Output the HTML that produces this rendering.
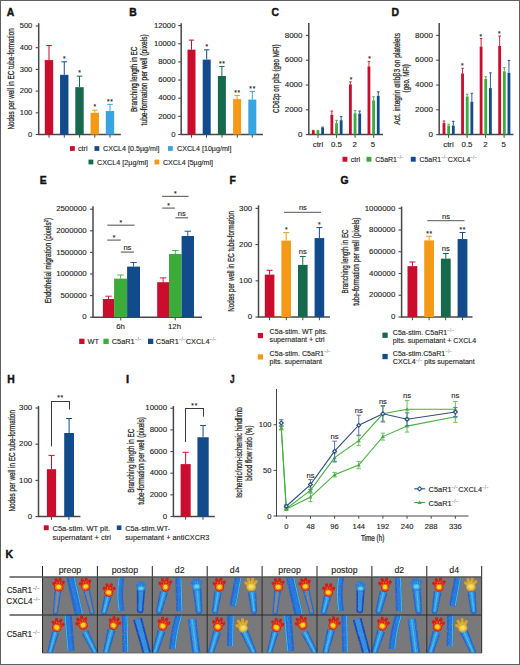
<!DOCTYPE html>
<html><head><meta charset="utf-8"><style>
html,body{margin:0;padding:0;background:#fff;}
svg{display:block;font-family:"Liberation Sans", sans-serif;}
text{stroke:#222;stroke-width:0.12px;}
.yl{stroke-width:0.24px;}
.sp{fill:#555;stroke:none;}
.pl{stroke:#111;stroke-width:0.45px;}
</style></head><body>
<svg width="520" height="665" viewBox="0 0 520 665">
<rect x="0" y="0" width="520" height="665" fill="#fff"/>
<text class="pl" x="0" y="0" font-size="11.8" font-weight="bold" fill="#111" transform="translate(6.70 15.80) scale(0.88 1)">A</text>
<line x1="38.70" y1="23.30" x2="38.70" y2="135.00" stroke="#484848" stroke-width="1.5"/>
<line x1="35.70" y1="134.50" x2="38.70" y2="134.50" stroke="#484848" stroke-width="1.1"/>
<text x="32.30" y="136.70" font-size="7.55" text-anchor="end" fill="#222">0</text>
<line x1="35.70" y1="112.80" x2="38.70" y2="112.80" stroke="#484848" stroke-width="1.1"/>
<text x="32.30" y="115.00" font-size="7.55" text-anchor="end" fill="#222">100</text>
<line x1="35.70" y1="91.10" x2="38.70" y2="91.10" stroke="#484848" stroke-width="1.1"/>
<text x="32.30" y="93.30" font-size="7.55" text-anchor="end" fill="#222">200</text>
<line x1="35.70" y1="69.40" x2="38.70" y2="69.40" stroke="#484848" stroke-width="1.1"/>
<text x="32.30" y="71.60" font-size="7.55" text-anchor="end" fill="#222">300</text>
<line x1="35.70" y1="47.70" x2="38.70" y2="47.70" stroke="#484848" stroke-width="1.1"/>
<text x="32.30" y="49.90" font-size="7.55" text-anchor="end" fill="#222">400</text>
<line x1="35.70" y1="26.00" x2="38.70" y2="26.00" stroke="#484848" stroke-width="1.1"/>
<text x="32.30" y="28.20" font-size="7.55" text-anchor="end" fill="#222">500</text>
<line x1="38.20" y1="134.50" x2="120.80" y2="134.50" stroke="#484848" stroke-width="1.5"/>
<line x1="49.00" y1="134.50" x2="49.00" y2="137.70" stroke="#484848" stroke-width="1.0"/>
<line x1="64.30" y1="134.50" x2="64.30" y2="137.70" stroke="#484848" stroke-width="1.0"/>
<line x1="79.60" y1="134.50" x2="79.60" y2="137.70" stroke="#484848" stroke-width="1.0"/>
<line x1="94.80" y1="134.50" x2="94.80" y2="137.70" stroke="#484848" stroke-width="1.0"/>
<line x1="110.00" y1="134.50" x2="110.00" y2="137.70" stroke="#484848" stroke-width="1.0"/>
<rect x="44.80" y="60.07" width="8.40" height="74.43" fill="#ca0c2d"/>
<line x1="49.00" y1="60.07" x2="49.00" y2="45.53" stroke="#ca0c2d" stroke-width="1.0"/>
<line x1="46.20" y1="45.53" x2="51.80" y2="45.53" stroke="#ca0c2d" stroke-width="1.0"/>
<rect x="60.05" y="74.83" width="8.40" height="59.67" fill="#124b8b"/>
<line x1="64.25" y1="74.83" x2="64.25" y2="61.81" stroke="#124b8b" stroke-width="1.0"/>
<line x1="61.45" y1="61.81" x2="67.05" y2="61.81" stroke="#124b8b" stroke-width="1.0"/>
<text x="64.25" y="61.10" font-size="6.6" text-anchor="middle" fill="#222">*</text>
<rect x="75.30" y="87.19" width="8.40" height="47.31" fill="#17694e"/>
<line x1="79.50" y1="87.19" x2="79.50" y2="76.13" stroke="#17694e" stroke-width="1.0"/>
<line x1="76.70" y1="76.13" x2="82.30" y2="76.13" stroke="#17694e" stroke-width="1.0"/>
<text x="79.50" y="75.42" font-size="6.6" text-anchor="middle" fill="#222">*</text>
<rect x="90.55" y="112.80" width="8.40" height="21.70" fill="#f59a17"/>
<line x1="94.75" y1="112.80" x2="94.75" y2="110.20" stroke="#f59a17" stroke-width="1.0"/>
<line x1="91.95" y1="110.20" x2="97.55" y2="110.20" stroke="#f59a17" stroke-width="1.0"/>
<text x="94.75" y="109.49" font-size="6.6" text-anchor="middle" fill="#222">*</text>
<rect x="105.80" y="111.06" width="8.40" height="23.44" fill="#37a5e0"/>
<line x1="110.00" y1="111.06" x2="110.00" y2="104.34" stroke="#37a5e0" stroke-width="1.0"/>
<line x1="107.20" y1="104.34" x2="112.80" y2="104.34" stroke="#37a5e0" stroke-width="1.0"/>
<text x="108.35" y="103.63" font-size="6.6" text-anchor="middle" fill="#222">*</text>
<text x="111.65" y="103.63" font-size="6.6" text-anchor="middle" fill="#222">*</text>
<text class="yl" x="0" y="0" font-size="8.6" text-anchor="middle" fill="#222" transform="translate(14.00 78.90) rotate(-90) scale(0.7355 1)">Nodes per well in EC tube-formation</text>
<text class="pl" x="0" y="0" font-size="11.8" font-weight="bold" fill="#111" transform="translate(129.30 15.90) scale(0.88 1)">B</text>
<line x1="181.20" y1="23.30" x2="181.20" y2="135.00" stroke="#484848" stroke-width="1.5"/>
<line x1="178.20" y1="134.50" x2="181.20" y2="134.50" stroke="#484848" stroke-width="1.1"/>
<text x="175.50" y="136.70" font-size="7.75" text-anchor="end" fill="#222">0</text>
<line x1="178.20" y1="116.35" x2="181.20" y2="116.35" stroke="#484848" stroke-width="1.1"/>
<text x="175.50" y="118.55" font-size="7.75" text-anchor="end" fill="#222">2000</text>
<line x1="178.20" y1="98.20" x2="181.20" y2="98.20" stroke="#484848" stroke-width="1.1"/>
<text x="175.50" y="100.40" font-size="7.75" text-anchor="end" fill="#222">4000</text>
<line x1="178.20" y1="80.05" x2="181.20" y2="80.05" stroke="#484848" stroke-width="1.1"/>
<text x="175.50" y="82.25" font-size="7.75" text-anchor="end" fill="#222">6000</text>
<line x1="178.20" y1="61.90" x2="181.20" y2="61.90" stroke="#484848" stroke-width="1.1"/>
<text x="175.50" y="64.10" font-size="7.75" text-anchor="end" fill="#222">8000</text>
<line x1="178.20" y1="43.75" x2="181.20" y2="43.75" stroke="#484848" stroke-width="1.1"/>
<text x="175.50" y="45.95" font-size="7.75" text-anchor="end" fill="#222">10000</text>
<line x1="178.20" y1="25.60" x2="181.20" y2="25.60" stroke="#484848" stroke-width="1.1"/>
<text x="175.50" y="27.80" font-size="7.75" text-anchor="end" fill="#222">12000</text>
<line x1="180.70" y1="134.50" x2="263.00" y2="134.50" stroke="#484848" stroke-width="1.5"/>
<line x1="191.50" y1="134.50" x2="191.50" y2="137.70" stroke="#484848" stroke-width="1.0"/>
<line x1="206.50" y1="134.50" x2="206.50" y2="137.70" stroke="#484848" stroke-width="1.0"/>
<line x1="222.00" y1="134.50" x2="222.00" y2="137.70" stroke="#484848" stroke-width="1.0"/>
<line x1="237.30" y1="134.50" x2="237.30" y2="137.70" stroke="#484848" stroke-width="1.0"/>
<line x1="252.30" y1="134.50" x2="252.30" y2="137.70" stroke="#484848" stroke-width="1.0"/>
<rect x="187.50" y="49.65" width="8.00" height="84.85" fill="#ca0c2d"/>
<line x1="191.50" y1="49.65" x2="191.50" y2="40.12" stroke="#ca0c2d" stroke-width="1.0"/>
<line x1="188.80" y1="40.12" x2="194.20" y2="40.12" stroke="#ca0c2d" stroke-width="1.0"/>
<rect x="202.70" y="59.63" width="8.00" height="74.87" fill="#124b8b"/>
<line x1="206.70" y1="59.63" x2="206.70" y2="49.83" stroke="#124b8b" stroke-width="1.0"/>
<line x1="204.00" y1="49.83" x2="209.40" y2="49.83" stroke="#124b8b" stroke-width="1.0"/>
<text x="206.70" y="49.23" font-size="6.6" text-anchor="middle" fill="#222">*</text>
<rect x="217.90" y="75.97" width="8.00" height="58.53" fill="#17694e"/>
<line x1="221.90" y1="75.97" x2="221.90" y2="66.44" stroke="#17694e" stroke-width="1.0"/>
<line x1="219.20" y1="66.44" x2="224.60" y2="66.44" stroke="#17694e" stroke-width="1.0"/>
<text x="220.25" y="65.83" font-size="6.6" text-anchor="middle" fill="#222">*</text>
<text x="223.55" y="65.83" font-size="6.6" text-anchor="middle" fill="#222">*</text>
<rect x="233.10" y="99.11" width="8.00" height="35.39" fill="#f59a17"/>
<line x1="237.10" y1="99.11" x2="237.10" y2="95.48" stroke="#f59a17" stroke-width="1.0"/>
<line x1="234.40" y1="95.48" x2="239.80" y2="95.48" stroke="#f59a17" stroke-width="1.0"/>
<text x="235.45" y="94.87" font-size="6.6" text-anchor="middle" fill="#222">*</text>
<text x="238.75" y="94.87" font-size="6.6" text-anchor="middle" fill="#222">*</text>
<rect x="248.30" y="99.56" width="8.00" height="34.94" fill="#37a5e0"/>
<line x1="252.30" y1="99.56" x2="252.30" y2="91.39" stroke="#37a5e0" stroke-width="1.0"/>
<line x1="249.60" y1="91.39" x2="255.00" y2="91.39" stroke="#37a5e0" stroke-width="1.0"/>
<text x="250.65" y="90.79" font-size="6.6" text-anchor="middle" fill="#222">*</text>
<text x="253.95" y="90.79" font-size="6.6" text-anchor="middle" fill="#222">*</text>
<text class="yl" x="0" y="0" font-size="8.6" text-anchor="middle" fill="#222" transform="translate(136.80 79.25) rotate(-90) scale(0.7446 1)">Branching length in EC</text>
<text class="yl" x="0" y="0" font-size="8.6" text-anchor="middle" fill="#222" transform="translate(147.20 79.85) rotate(-90) scale(0.7765 1)">tube-formation per well (pixels)</text>
<rect x="70.00" y="146.10" width="4.80" height="4.80" fill="#ca0c2d"/>
<text x="78.00" y="151.00" font-size="7.1" text-anchor="start" fill="#222">ctrl</text>
<rect x="94.50" y="146.10" width="4.80" height="4.80" fill="#124b8b"/>
<text x="103.00" y="151.00" font-size="7.1" text-anchor="start" fill="#222" textLength="56.50" lengthAdjust="spacingAndGlyphs">CXCL4 [0.5µg/ml]</text>
<rect x="168.00" y="146.10" width="4.80" height="4.80" fill="#37a5e0"/>
<text x="177.00" y="151.00" font-size="7.1" text-anchor="start" fill="#222" textLength="54.40" lengthAdjust="spacingAndGlyphs">CXCL4 [10µg/ml]</text>
<rect x="88.50" y="159.60" width="4.80" height="4.80" fill="#17694e"/>
<text x="97.00" y="164.50" font-size="7.1" text-anchor="start" fill="#222" textLength="51.00" lengthAdjust="spacingAndGlyphs">CXCL4 [2µg/ml]</text>
<rect x="154.50" y="159.60" width="4.80" height="4.80" fill="#f59a17"/>
<text x="163.00" y="164.50" font-size="7.1" text-anchor="start" fill="#222" textLength="50.00" lengthAdjust="spacingAndGlyphs">CXCL4 [5µg/ml]</text>
<text class="pl" x="0" y="0" font-size="11.8" font-weight="bold" fill="#111" transform="translate(271.40 16.00) scale(0.88 1)">C</text>
<line x1="308.80" y1="23.00" x2="308.80" y2="135.10" stroke="#484848" stroke-width="1.5"/>
<line x1="305.80" y1="134.60" x2="308.80" y2="134.60" stroke="#484848" stroke-width="1.1"/>
<text x="302.50" y="136.80" font-size="8.0" text-anchor="end" fill="#222">0</text>
<line x1="305.80" y1="109.80" x2="308.80" y2="109.80" stroke="#484848" stroke-width="1.1"/>
<text x="302.50" y="112.00" font-size="8.0" text-anchor="end" fill="#222">2000</text>
<line x1="305.80" y1="85.00" x2="308.80" y2="85.00" stroke="#484848" stroke-width="1.1"/>
<text x="302.50" y="87.20" font-size="8.0" text-anchor="end" fill="#222">4000</text>
<line x1="305.80" y1="60.20" x2="308.80" y2="60.20" stroke="#484848" stroke-width="1.1"/>
<text x="302.50" y="62.40" font-size="8.0" text-anchor="end" fill="#222">6000</text>
<line x1="305.80" y1="35.40" x2="308.80" y2="35.40" stroke="#484848" stroke-width="1.1"/>
<text x="302.50" y="37.60" font-size="8.0" text-anchor="end" fill="#222">8000</text>
<line x1="308.30" y1="134.60" x2="383.00" y2="134.60" stroke="#484848" stroke-width="1.5"/>
<line x1="318.00" y1="134.60" x2="318.00" y2="137.80" stroke="#484848" stroke-width="1.0"/>
<line x1="336.60" y1="134.60" x2="336.60" y2="137.80" stroke="#484848" stroke-width="1.0"/>
<line x1="355.10" y1="134.60" x2="355.10" y2="137.80" stroke="#484848" stroke-width="1.0"/>
<line x1="373.70" y1="134.60" x2="373.70" y2="137.80" stroke="#484848" stroke-width="1.0"/>
<rect x="311.90" y="130.88" width="2.80" height="3.62" fill="#ca0c2d"/>
<line x1="313.30" y1="130.88" x2="313.30" y2="130.38" stroke="#ca0c2d" stroke-width="0.9"/>
<line x1="312.00" y1="130.38" x2="314.60" y2="130.38" stroke="#ca0c2d" stroke-width="0.9"/>
<rect x="316.55" y="130.88" width="2.80" height="3.62" fill="#3bab3a"/>
<line x1="317.95" y1="130.88" x2="317.95" y2="130.38" stroke="#3bab3a" stroke-width="0.9"/>
<line x1="316.65" y1="130.38" x2="319.25" y2="130.38" stroke="#3bab3a" stroke-width="0.9"/>
<rect x="321.20" y="127.66" width="2.80" height="6.84" fill="#124b8b"/>
<line x1="322.60" y1="127.66" x2="322.60" y2="127.16" stroke="#124b8b" stroke-width="0.9"/>
<line x1="321.30" y1="127.16" x2="323.90" y2="127.16" stroke="#124b8b" stroke-width="0.9"/>
<rect x="330.45" y="114.76" width="2.80" height="19.74" fill="#ca0c2d"/>
<line x1="331.85" y1="114.76" x2="331.85" y2="111.04" stroke="#ca0c2d" stroke-width="0.9"/>
<line x1="330.55" y1="111.04" x2="333.15" y2="111.04" stroke="#ca0c2d" stroke-width="0.9"/>
<rect x="335.10" y="123.19" width="2.80" height="11.31" fill="#3bab3a"/>
<line x1="336.50" y1="123.19" x2="336.50" y2="120.34" stroke="#3bab3a" stroke-width="0.9"/>
<line x1="335.20" y1="120.34" x2="337.80" y2="120.34" stroke="#3bab3a" stroke-width="0.9"/>
<rect x="339.75" y="120.22" width="2.80" height="14.28" fill="#124b8b"/>
<line x1="341.15" y1="120.22" x2="341.15" y2="116.62" stroke="#124b8b" stroke-width="0.9"/>
<line x1="339.85" y1="116.62" x2="342.45" y2="116.62" stroke="#124b8b" stroke-width="0.9"/>
<rect x="349.00" y="84.38" width="2.80" height="50.12" fill="#ca0c2d"/>
<line x1="350.40" y1="84.38" x2="350.40" y2="81.90" stroke="#ca0c2d" stroke-width="0.9"/>
<line x1="349.10" y1="81.90" x2="351.70" y2="81.90" stroke="#ca0c2d" stroke-width="0.9"/>
<rect x="353.65" y="113.27" width="2.80" height="21.23" fill="#3bab3a"/>
<line x1="355.05" y1="113.27" x2="355.05" y2="110.42" stroke="#3bab3a" stroke-width="0.9"/>
<line x1="353.75" y1="110.42" x2="356.35" y2="110.42" stroke="#3bab3a" stroke-width="0.9"/>
<rect x="358.30" y="113.52" width="2.80" height="20.98" fill="#124b8b"/>
<line x1="359.70" y1="113.52" x2="359.70" y2="111.04" stroke="#124b8b" stroke-width="0.9"/>
<line x1="358.40" y1="111.04" x2="361.00" y2="111.04" stroke="#124b8b" stroke-width="0.9"/>
<rect x="367.55" y="66.40" width="2.80" height="68.10" fill="#ca0c2d"/>
<line x1="368.95" y1="66.40" x2="368.95" y2="61.44" stroke="#ca0c2d" stroke-width="0.9"/>
<line x1="367.65" y1="61.44" x2="370.25" y2="61.44" stroke="#ca0c2d" stroke-width="0.9"/>
<rect x="372.20" y="100.38" width="2.80" height="34.12" fill="#3bab3a"/>
<line x1="373.60" y1="100.38" x2="373.60" y2="96.78" stroke="#3bab3a" stroke-width="0.9"/>
<line x1="372.30" y1="96.78" x2="374.90" y2="96.78" stroke="#3bab3a" stroke-width="0.9"/>
<rect x="376.85" y="95.79" width="2.80" height="38.71" fill="#124b8b"/>
<line x1="378.25" y1="95.79" x2="378.25" y2="91.82" stroke="#124b8b" stroke-width="0.9"/>
<line x1="376.95" y1="91.82" x2="379.55" y2="91.82" stroke="#124b8b" stroke-width="0.9"/>
<text x="351.00" y="82.00" font-size="6.6" text-anchor="middle" fill="#222">*</text>
<text x="369.50" y="61.34" font-size="6.6" text-anchor="middle" fill="#222">*</text>
<text x="318.00" y="147.00" font-size="7.9" text-anchor="middle" fill="#222">ctrl</text>
<text x="336.40" y="147.00" font-size="7.9" text-anchor="middle" fill="#222">0.5</text>
<text x="354.60" y="147.00" font-size="7.9" text-anchor="middle" fill="#222">2</text>
<text x="373.00" y="147.00" font-size="7.9" text-anchor="middle" fill="#222">5</text>
<text class="yl" x="0" y="0" font-size="8.6" text-anchor="middle" fill="#222" transform="translate(279.20 78.70) rotate(-90) scale(0.7307 1)">CD62p on plts (geo MFI)</text>
<text class="pl" x="0" y="0" font-size="11.8" font-weight="bold" fill="#111" transform="translate(391.60 15.90) scale(0.88 1)">D</text>
<line x1="439.20" y1="23.00" x2="439.20" y2="135.10" stroke="#484848" stroke-width="1.5"/>
<line x1="436.20" y1="134.60" x2="439.20" y2="134.60" stroke="#484848" stroke-width="1.1"/>
<text x="432.90" y="136.80" font-size="8.0" text-anchor="end" fill="#222">0</text>
<line x1="436.20" y1="109.80" x2="439.20" y2="109.80" stroke="#484848" stroke-width="1.1"/>
<text x="432.90" y="112.00" font-size="8.0" text-anchor="end" fill="#222">2000</text>
<line x1="436.20" y1="85.00" x2="439.20" y2="85.00" stroke="#484848" stroke-width="1.1"/>
<text x="432.90" y="87.20" font-size="8.0" text-anchor="end" fill="#222">4000</text>
<line x1="436.20" y1="60.20" x2="439.20" y2="60.20" stroke="#484848" stroke-width="1.1"/>
<text x="432.90" y="62.40" font-size="8.0" text-anchor="end" fill="#222">6000</text>
<line x1="436.20" y1="35.40" x2="439.20" y2="35.40" stroke="#484848" stroke-width="1.1"/>
<text x="432.90" y="37.60" font-size="8.0" text-anchor="end" fill="#222">8000</text>
<line x1="438.70" y1="134.60" x2="513.50" y2="134.60" stroke="#484848" stroke-width="1.5"/>
<line x1="448.60" y1="134.60" x2="448.60" y2="137.80" stroke="#484848" stroke-width="1.0"/>
<line x1="467.10" y1="134.60" x2="467.10" y2="137.80" stroke="#484848" stroke-width="1.0"/>
<line x1="485.60" y1="134.60" x2="485.60" y2="137.80" stroke="#484848" stroke-width="1.0"/>
<line x1="504.10" y1="134.60" x2="504.10" y2="137.80" stroke="#484848" stroke-width="1.0"/>
<rect x="442.60" y="123.07" width="2.80" height="11.43" fill="#ca0c2d"/>
<line x1="444.00" y1="123.07" x2="444.00" y2="120.96" stroke="#ca0c2d" stroke-width="0.9"/>
<line x1="442.70" y1="120.96" x2="445.30" y2="120.96" stroke="#ca0c2d" stroke-width="0.9"/>
<rect x="447.25" y="125.55" width="2.80" height="8.95" fill="#3bab3a"/>
<line x1="448.65" y1="125.55" x2="448.65" y2="124.18" stroke="#3bab3a" stroke-width="0.9"/>
<line x1="447.35" y1="124.18" x2="449.95" y2="124.18" stroke="#3bab3a" stroke-width="0.9"/>
<rect x="451.90" y="125.55" width="2.80" height="8.95" fill="#124b8b"/>
<line x1="453.30" y1="125.55" x2="453.30" y2="121.33" stroke="#124b8b" stroke-width="0.9"/>
<line x1="452.00" y1="121.33" x2="454.60" y2="121.33" stroke="#124b8b" stroke-width="0.9"/>
<rect x="461.15" y="73.47" width="2.80" height="61.03" fill="#ca0c2d"/>
<line x1="462.55" y1="73.47" x2="462.55" y2="68.26" stroke="#ca0c2d" stroke-width="0.9"/>
<line x1="461.25" y1="68.26" x2="463.85" y2="68.26" stroke="#ca0c2d" stroke-width="0.9"/>
<rect x="465.80" y="96.53" width="2.80" height="37.97" fill="#3bab3a"/>
<line x1="467.20" y1="96.53" x2="467.20" y2="94.18" stroke="#3bab3a" stroke-width="0.9"/>
<line x1="465.90" y1="94.18" x2="468.50" y2="94.18" stroke="#3bab3a" stroke-width="0.9"/>
<rect x="470.45" y="101.74" width="2.80" height="32.76" fill="#124b8b"/>
<line x1="471.85" y1="101.74" x2="471.85" y2="93.31" stroke="#124b8b" stroke-width="0.9"/>
<line x1="470.55" y1="93.31" x2="473.15" y2="93.31" stroke="#124b8b" stroke-width="0.9"/>
<rect x="479.70" y="46.56" width="2.80" height="87.94" fill="#ca0c2d"/>
<line x1="481.10" y1="46.56" x2="481.10" y2="38.50" stroke="#ca0c2d" stroke-width="0.9"/>
<line x1="479.80" y1="38.50" x2="482.40" y2="38.50" stroke="#ca0c2d" stroke-width="0.9"/>
<rect x="484.35" y="78.92" width="2.80" height="55.58" fill="#3bab3a"/>
<line x1="485.75" y1="78.92" x2="485.75" y2="76.69" stroke="#3bab3a" stroke-width="0.9"/>
<line x1="484.45" y1="76.69" x2="487.05" y2="76.69" stroke="#3bab3a" stroke-width="0.9"/>
<rect x="489.00" y="88.10" width="2.80" height="46.40" fill="#124b8b"/>
<line x1="490.40" y1="88.10" x2="490.40" y2="72.85" stroke="#124b8b" stroke-width="0.9"/>
<line x1="489.10" y1="72.85" x2="491.70" y2="72.85" stroke="#124b8b" stroke-width="0.9"/>
<rect x="498.25" y="45.94" width="2.80" height="88.56" fill="#ca0c2d"/>
<line x1="499.65" y1="45.94" x2="499.65" y2="36.02" stroke="#ca0c2d" stroke-width="0.9"/>
<line x1="498.35" y1="36.02" x2="500.95" y2="36.02" stroke="#ca0c2d" stroke-width="0.9"/>
<rect x="502.90" y="71.36" width="2.80" height="63.14" fill="#3bab3a"/>
<line x1="504.30" y1="71.36" x2="504.30" y2="67.64" stroke="#3bab3a" stroke-width="0.9"/>
<line x1="503.00" y1="67.64" x2="505.60" y2="67.64" stroke="#3bab3a" stroke-width="0.9"/>
<rect x="507.55" y="72.85" width="2.80" height="61.65" fill="#124b8b"/>
<line x1="508.95" y1="72.85" x2="508.95" y2="60.45" stroke="#124b8b" stroke-width="0.9"/>
<line x1="507.65" y1="60.45" x2="510.25" y2="60.45" stroke="#124b8b" stroke-width="0.9"/>
<text x="462.40" y="67.76" font-size="6.6" text-anchor="middle" fill="#222">*</text>
<text x="480.90" y="38.62" font-size="6.6" text-anchor="middle" fill="#222">*</text>
<text x="499.40" y="35.76" font-size="6.6" text-anchor="middle" fill="#222">*</text>
<text x="448.50" y="147.00" font-size="7.9" text-anchor="middle" fill="#222">ctrl</text>
<text x="467.00" y="147.00" font-size="7.9" text-anchor="middle" fill="#222">0.5</text>
<text x="485.40" y="147.00" font-size="7.9" text-anchor="middle" fill="#222">2</text>
<text x="503.60" y="147.00" font-size="7.9" text-anchor="middle" fill="#222">5</text>
<text class="yl" x="0" y="0" font-size="8.6" text-anchor="middle" fill="#222" transform="translate(399.70 78.85) rotate(-90) scale(0.7742 1)">Act. integrin αIIbβ3 on platelets</text>
<text class="yl" x="0" y="0" font-size="8.6" text-anchor="middle" fill="#222" transform="translate(409.40 78.35) rotate(-90) scale(0.7085 1)">(geo. MFI)</text>
<rect x="342.50" y="156.80" width="4.90" height="4.90" fill="#ca0c2d"/>
<text x="350.80" y="161.50" font-size="7.0" text-anchor="start" fill="#222">ctrl</text>
<rect x="366.50" y="156.80" width="4.90" height="4.90" fill="#3bab3a"/>
<text x="375.20" y="161.50" font-size="7.0" text-anchor="start" fill="#222">C5aR1<tspan class="sp" font-size="4.6" dy="-2.8">−/−</tspan></text>
<rect x="410.80" y="156.80" width="4.90" height="4.90" fill="#124b8b"/>
<text x="419.40" y="161.50" font-size="7.0" text-anchor="start" fill="#222">C5aR1<tspan class="sp" font-size="4.6" dy="-2.8">−/−</tspan><tspan dy="2.8">CXCL4</tspan><tspan class="sp" font-size="4.6" dy="-2.8">−/−</tspan></text>
<text class="pl" x="0" y="0" font-size="11.8" font-weight="bold" fill="#111" transform="translate(39.70 183.70) scale(0.88 1)">E</text>
<line x1="93.00" y1="206.30" x2="93.00" y2="317.70" stroke="#484848" stroke-width="1.5"/>
<line x1="90.00" y1="317.20" x2="93.00" y2="317.20" stroke="#484848" stroke-width="1.1"/>
<text x="86.70" y="319.40" font-size="7.85" text-anchor="end" fill="#222">0</text>
<line x1="90.00" y1="295.60" x2="93.00" y2="295.60" stroke="#484848" stroke-width="1.1"/>
<text x="86.70" y="297.80" font-size="7.85" text-anchor="end" fill="#222">500000</text>
<line x1="90.00" y1="274.00" x2="93.00" y2="274.00" stroke="#484848" stroke-width="1.1"/>
<text x="86.70" y="276.20" font-size="7.85" text-anchor="end" fill="#222">1000000</text>
<line x1="90.00" y1="252.40" x2="93.00" y2="252.40" stroke="#484848" stroke-width="1.1"/>
<text x="86.70" y="254.60" font-size="7.85" text-anchor="end" fill="#222">1500000</text>
<line x1="90.00" y1="230.80" x2="93.00" y2="230.80" stroke="#484848" stroke-width="1.1"/>
<text x="86.70" y="233.00" font-size="7.85" text-anchor="end" fill="#222">2000000</text>
<line x1="90.00" y1="209.20" x2="93.00" y2="209.20" stroke="#484848" stroke-width="1.1"/>
<text x="86.70" y="211.40" font-size="7.85" text-anchor="end" fill="#222">2500000</text>
<line x1="92.30" y1="317.20" x2="202.00" y2="317.20" stroke="#484848" stroke-width="1.5"/>
<line x1="120.80" y1="317.20" x2="120.80" y2="320.40" stroke="#484848" stroke-width="1.0"/>
<line x1="175.20" y1="317.20" x2="175.20" y2="320.40" stroke="#484848" stroke-width="1.0"/>
<rect x="102.90" y="299.01" width="11.20" height="18.19" fill="#ca0c2d"/>
<line x1="108.50" y1="299.01" x2="108.50" y2="296.20" stroke="#ca0c2d" stroke-width="0.9"/>
<line x1="105.25" y1="296.20" x2="111.75" y2="296.20" stroke="#ca0c2d" stroke-width="0.9"/>
<rect x="114.10" y="278.62" width="13.00" height="38.58" fill="#3bab3a"/>
<line x1="120.60" y1="278.62" x2="120.60" y2="274.99" stroke="#3bab3a" stroke-width="0.9"/>
<line x1="117.35" y1="274.99" x2="123.85" y2="274.99" stroke="#3bab3a" stroke-width="0.9"/>
<rect x="127.10" y="266.61" width="12.90" height="50.59" fill="#124b8b"/>
<line x1="133.55" y1="266.61" x2="133.55" y2="262.51" stroke="#124b8b" stroke-width="0.9"/>
<line x1="130.30" y1="262.51" x2="136.80" y2="262.51" stroke="#124b8b" stroke-width="0.9"/>
<rect x="157.20" y="282.21" width="11.80" height="34.99" fill="#ca0c2d"/>
<line x1="163.10" y1="282.21" x2="163.10" y2="277.89" stroke="#ca0c2d" stroke-width="0.9"/>
<line x1="159.85" y1="277.89" x2="166.35" y2="277.89" stroke="#ca0c2d" stroke-width="0.9"/>
<rect x="169.00" y="254.00" width="12.60" height="63.20" fill="#3bab3a"/>
<line x1="175.30" y1="254.00" x2="175.30" y2="250.50" stroke="#3bab3a" stroke-width="0.9"/>
<line x1="172.05" y1="250.50" x2="178.55" y2="250.50" stroke="#3bab3a" stroke-width="0.9"/>
<rect x="181.60" y="235.98" width="12.40" height="81.22" fill="#124b8b"/>
<line x1="187.80" y1="235.98" x2="187.80" y2="231.23" stroke="#124b8b" stroke-width="0.9"/>
<line x1="184.55" y1="231.23" x2="191.05" y2="231.23" stroke="#124b8b" stroke-width="0.9"/>
<line x1="107.30" y1="225.20" x2="134.50" y2="225.20" stroke="#6a6a6a" stroke-width="1.2"/>
<text x="120.90" y="224.90" font-size="6.6" text-anchor="middle" fill="#222">*</text>
<line x1="107.30" y1="240.10" x2="120.80" y2="240.10" stroke="#6a6a6a" stroke-width="1.2"/>
<text x="114.05" y="239.80" font-size="6.6" text-anchor="middle" fill="#222">*</text>
<line x1="120.80" y1="252.10" x2="134.00" y2="252.10" stroke="#6a6a6a" stroke-width="1.2"/>
<text x="127.40" y="250.30" font-size="7.6" text-anchor="middle" fill="#222">ns</text>
<line x1="162.20" y1="196.40" x2="188.60" y2="196.40" stroke="#6a6a6a" stroke-width="1.2"/>
<text x="175.40" y="196.10" font-size="6.6" text-anchor="middle" fill="#222">*</text>
<line x1="162.20" y1="208.10" x2="174.90" y2="208.10" stroke="#6a6a6a" stroke-width="1.2"/>
<text x="168.55" y="207.80" font-size="6.6" text-anchor="middle" fill="#222">*</text>
<line x1="175.40" y1="217.80" x2="188.10" y2="217.80" stroke="#6a6a6a" stroke-width="1.2"/>
<text x="181.75" y="216.00" font-size="7.6" text-anchor="middle" fill="#222">ns</text>
<text x="120.50" y="329.00" font-size="7.8" text-anchor="middle" fill="#222">6h</text>
<text x="174.50" y="329.00" font-size="7.8" text-anchor="middle" fill="#222">12h</text>
<text class="yl" x="0" y="0" font-size="8.6" text-anchor="middle" fill="#222" transform="translate(50.60 260.60) rotate(-90) scale(0.7537 1)">Endothelial migration (pixels<tspan font-size="5.42" dy="-3.10">2</tspan><tspan dy="3.10">)</tspan></text>
<rect x="79.20" y="338.70" width="5.30" height="5.30" fill="#ca0c2d"/>
<text x="87.50" y="344.00" font-size="7.4" text-anchor="start" fill="#222">WT</text>
<rect x="103.40" y="338.70" width="5.30" height="5.30" fill="#3bab3a"/>
<text x="111.70" y="344.00" font-size="7.4" text-anchor="start" fill="#222">C5aR1<tspan class="sp" font-size="4.8" dy="-3">−/−</tspan></text>
<rect x="148.00" y="338.70" width="5.30" height="5.30" fill="#124b8b"/>
<text x="155.80" y="344.00" font-size="7.4" text-anchor="start" fill="#222">C5aR1<tspan class="sp" font-size="4.8" dy="-3">−/−</tspan><tspan dy="3">CXCL4</tspan><tspan class="sp" font-size="4.8" dy="-3">−/−</tspan></text>
<text class="pl" x="0" y="0" font-size="11.8" font-weight="bold" fill="#111" transform="translate(229.60 183.50) scale(0.88 1)">F</text>
<line x1="258.50" y1="205.30" x2="258.50" y2="317.50" stroke="#484848" stroke-width="1.5"/>
<line x1="255.50" y1="317.00" x2="258.50" y2="317.00" stroke="#484848" stroke-width="1.1"/>
<text x="252.20" y="319.20" font-size="7.85" text-anchor="end" fill="#222">0</text>
<line x1="255.50" y1="280.80" x2="258.50" y2="280.80" stroke="#484848" stroke-width="1.1"/>
<text x="252.20" y="283.00" font-size="7.85" text-anchor="end" fill="#222">100</text>
<line x1="255.50" y1="244.60" x2="258.50" y2="244.60" stroke="#484848" stroke-width="1.1"/>
<text x="252.20" y="246.80" font-size="7.85" text-anchor="end" fill="#222">200</text>
<line x1="255.50" y1="208.40" x2="258.50" y2="208.40" stroke="#484848" stroke-width="1.1"/>
<text x="252.20" y="210.60" font-size="7.85" text-anchor="end" fill="#222">300</text>
<line x1="258.00" y1="317.00" x2="330.00" y2="317.00" stroke="#484848" stroke-width="1.5"/>
<line x1="269.60" y1="317.00" x2="269.60" y2="320.20" stroke="#484848" stroke-width="1.0"/>
<line x1="286.30" y1="317.00" x2="286.30" y2="320.20" stroke="#484848" stroke-width="1.0"/>
<line x1="302.80" y1="317.00" x2="302.80" y2="320.20" stroke="#484848" stroke-width="1.0"/>
<line x1="319.40" y1="317.00" x2="319.40" y2="320.20" stroke="#484848" stroke-width="1.0"/>
<rect x="264.80" y="274.65" width="9.60" height="42.35" fill="#ca0c2d"/>
<line x1="269.60" y1="274.65" x2="269.60" y2="270.30" stroke="#ca0c2d" stroke-width="1.0"/>
<line x1="266.60" y1="270.30" x2="272.60" y2="270.30" stroke="#ca0c2d" stroke-width="1.0"/>
<rect x="281.40" y="240.62" width="9.60" height="76.38" fill="#f59a17"/>
<line x1="286.20" y1="240.62" x2="286.20" y2="232.65" stroke="#f59a17" stroke-width="1.0"/>
<line x1="283.20" y1="232.65" x2="289.20" y2="232.65" stroke="#f59a17" stroke-width="1.0"/>
<text x="286.20" y="232.15" font-size="6.6" text-anchor="middle" fill="#222">*</text>
<rect x="298.00" y="264.87" width="9.60" height="52.13" fill="#17694e"/>
<line x1="302.80" y1="264.87" x2="302.80" y2="256.55" stroke="#17694e" stroke-width="1.0"/>
<line x1="299.80" y1="256.55" x2="305.80" y2="256.55" stroke="#17694e" stroke-width="1.0"/>
<text x="302.80" y="254.05" font-size="7.6" text-anchor="middle" fill="#222">ns</text>
<rect x="314.60" y="238.08" width="9.60" height="78.92" fill="#124b8b"/>
<line x1="319.40" y1="238.08" x2="319.40" y2="227.59" stroke="#124b8b" stroke-width="1.0"/>
<line x1="316.40" y1="227.59" x2="322.40" y2="227.59" stroke="#124b8b" stroke-width="1.0"/>
<text x="319.40" y="227.08" font-size="6.6" text-anchor="middle" fill="#222">*</text>
<line x1="284.00" y1="212.30" x2="321.00" y2="212.30" stroke="#555" stroke-width="1.0"/>
<text x="302.90" y="210.20" font-size="7.6" text-anchor="middle" fill="#222">ns</text>
<text class="yl" x="0" y="0" font-size="8.6" text-anchor="middle" fill="#222" transform="translate(233.50 261.40) rotate(-90) scale(0.7326 1)">Nodes per well in EC tube-formation</text>
<rect x="257.80" y="333.00" width="5.20" height="5.20" fill="#ca0c2d"/>
<text x="269.60" y="333.60" font-size="7.1" text-anchor="start" fill="#222">C5a-stim. WT plts.</text>
<text x="269.60" y="341.70" font-size="7.1" text-anchor="start" fill="#222">supernatant + ctrl</text>
<rect x="257.80" y="354.30" width="5.20" height="5.20" fill="#f59a17"/>
<text x="269.60" y="356.00" font-size="7.1" text-anchor="start" fill="#222">C5a-stim. C5aR1<tspan class="sp" font-size="4.6" dy="-2.8">−/−</tspan></text>
<text x="269.60" y="364.40" font-size="7.1" text-anchor="start" fill="#222">plts. supernatant</text>
<text class="pl" x="0" y="0" font-size="11.8" font-weight="bold" fill="#111" transform="translate(340.60 183.80) scale(0.88 1)">G</text>
<line x1="401.60" y1="206.50" x2="401.60" y2="317.50" stroke="#484848" stroke-width="1.5"/>
<line x1="398.60" y1="317.00" x2="401.60" y2="317.00" stroke="#484848" stroke-width="1.1"/>
<text x="395.30" y="319.20" font-size="7.85" text-anchor="end" fill="#222">0</text>
<line x1="398.60" y1="295.26" x2="401.60" y2="295.26" stroke="#484848" stroke-width="1.1"/>
<text x="395.30" y="297.46" font-size="7.85" text-anchor="end" fill="#222">200000</text>
<line x1="398.60" y1="273.52" x2="401.60" y2="273.52" stroke="#484848" stroke-width="1.1"/>
<text x="395.30" y="275.72" font-size="7.85" text-anchor="end" fill="#222">400000</text>
<line x1="398.60" y1="251.78" x2="401.60" y2="251.78" stroke="#484848" stroke-width="1.1"/>
<text x="395.30" y="253.98" font-size="7.85" text-anchor="end" fill="#222">600000</text>
<line x1="398.60" y1="230.04" x2="401.60" y2="230.04" stroke="#484848" stroke-width="1.1"/>
<text x="395.30" y="232.24" font-size="7.85" text-anchor="end" fill="#222">800000</text>
<line x1="398.60" y1="208.30" x2="401.60" y2="208.30" stroke="#484848" stroke-width="1.1"/>
<text x="395.30" y="210.50" font-size="7.85" text-anchor="end" fill="#222">1000000</text>
<line x1="401.10" y1="317.00" x2="472.50" y2="317.00" stroke="#484848" stroke-width="1.5"/>
<line x1="412.40" y1="317.00" x2="412.40" y2="320.20" stroke="#484848" stroke-width="1.0"/>
<line x1="429.10" y1="317.00" x2="429.10" y2="320.20" stroke="#484848" stroke-width="1.0"/>
<line x1="445.70" y1="317.00" x2="445.70" y2="320.20" stroke="#484848" stroke-width="1.0"/>
<line x1="462.50" y1="317.00" x2="462.50" y2="320.20" stroke="#484848" stroke-width="1.0"/>
<rect x="407.50" y="266.13" width="9.80" height="50.87" fill="#ca0c2d"/>
<line x1="412.40" y1="266.13" x2="412.40" y2="262.00" stroke="#ca0c2d" stroke-width="1.0"/>
<line x1="409.40" y1="262.00" x2="415.40" y2="262.00" stroke="#ca0c2d" stroke-width="1.0"/>
<rect x="424.20" y="240.37" width="9.80" height="76.63" fill="#f59a17"/>
<line x1="429.10" y1="240.37" x2="429.10" y2="236.24" stroke="#f59a17" stroke-width="1.0"/>
<line x1="426.10" y1="236.24" x2="432.10" y2="236.24" stroke="#f59a17" stroke-width="1.0"/>
<text x="427.45" y="235.73" font-size="6.6" text-anchor="middle" fill="#222">*</text>
<text x="430.75" y="235.73" font-size="6.6" text-anchor="middle" fill="#222">*</text>
<rect x="440.90" y="258.63" width="9.80" height="58.37" fill="#17694e"/>
<line x1="445.80" y1="258.63" x2="445.80" y2="253.52" stroke="#17694e" stroke-width="1.0"/>
<line x1="442.80" y1="253.52" x2="448.80" y2="253.52" stroke="#17694e" stroke-width="1.0"/>
<text x="445.80" y="251.02" font-size="7.6" text-anchor="middle" fill="#222">ns</text>
<rect x="457.60" y="239.06" width="9.80" height="77.94" fill="#124b8b"/>
<line x1="462.50" y1="239.06" x2="462.50" y2="232.54" stroke="#124b8b" stroke-width="1.0"/>
<line x1="459.50" y1="232.54" x2="465.50" y2="232.54" stroke="#124b8b" stroke-width="1.0"/>
<text x="460.85" y="232.04" font-size="6.6" text-anchor="middle" fill="#222">*</text>
<text x="464.15" y="232.04" font-size="6.6" text-anchor="middle" fill="#222">*</text>
<line x1="427.30" y1="220.70" x2="464.50" y2="220.70" stroke="#555" stroke-width="1.0"/>
<text x="446.00" y="218.80" font-size="7.6" text-anchor="middle" fill="#222">ns</text>
<text class="yl" x="0" y="0" font-size="8.6" text-anchor="middle" fill="#222" transform="translate(348.40 261.40) rotate(-90) scale(0.7275 1)">Branching length in EC</text>
<text class="yl" x="0" y="0" font-size="8.6" text-anchor="middle" fill="#222" transform="translate(358.60 261.60) rotate(-90) scale(0.7518 1)">tube-formation per well (pixels)</text>
<rect x="382.40" y="332.60" width="5.30" height="5.30" fill="#17694e"/>
<text x="392.80" y="334.80" font-size="7.1" text-anchor="start" fill="#222">C5a-stim. C5aR1<tspan class="sp" font-size="4.6" dy="-2.8">−/−</tspan></text>
<text x="392.80" y="343.20" font-size="7.1" text-anchor="start" fill="#222">plts. supernatant + CXCL4</text>
<rect x="382.40" y="353.90" width="5.30" height="5.30" fill="#124b8b"/>
<text x="392.80" y="355.80" font-size="7.1" text-anchor="start" fill="#222">C5a-stim.C5aR1<tspan class="sp" font-size="4.6" dy="-2.8">−/−</tspan></text>
<text x="392.80" y="364.30" font-size="7.1" text-anchor="start" fill="#222">CXCL4<tspan class="sp" font-size="4.6" dy="-2.8">−/−</tspan><tspan dy="2.8"> plts supernatant</tspan></text>
<text class="pl" x="0" y="0" font-size="11.8" font-weight="bold" fill="#111" transform="translate(7.20 382.90) scale(0.88 1)">H</text>
<line x1="38.50" y1="406.00" x2="38.50" y2="517.10" stroke="#484848" stroke-width="1.5"/>
<line x1="35.50" y1="516.60" x2="38.50" y2="516.60" stroke="#484848" stroke-width="1.1"/>
<text x="32.20" y="518.80" font-size="7.85" text-anchor="end" fill="#222">0</text>
<line x1="35.50" y1="480.40" x2="38.50" y2="480.40" stroke="#484848" stroke-width="1.1"/>
<text x="32.20" y="482.60" font-size="7.85" text-anchor="end" fill="#222">100</text>
<line x1="35.50" y1="444.20" x2="38.50" y2="444.20" stroke="#484848" stroke-width="1.1"/>
<text x="32.20" y="446.40" font-size="7.85" text-anchor="end" fill="#222">200</text>
<line x1="35.50" y1="408.00" x2="38.50" y2="408.00" stroke="#484848" stroke-width="1.1"/>
<text x="32.20" y="410.20" font-size="7.85" text-anchor="end" fill="#222">300</text>
<line x1="38.00" y1="516.60" x2="80.40" y2="516.60" stroke="#484848" stroke-width="1.5"/>
<line x1="51.50" y1="516.60" x2="51.50" y2="519.80" stroke="#484848" stroke-width="1.0"/>
<line x1="68.90" y1="516.60" x2="68.90" y2="519.80" stroke="#484848" stroke-width="1.0"/>
<rect x="46.90" y="469.18" width="9.20" height="47.42" fill="#ca0c2d"/>
<line x1="51.50" y1="469.18" x2="51.50" y2="455.42" stroke="#ca0c2d" stroke-width="1.0"/>
<line x1="48.50" y1="455.42" x2="54.50" y2="455.42" stroke="#ca0c2d" stroke-width="1.0"/>
<rect x="64.20" y="432.98" width="9.80" height="83.62" fill="#124b8b"/>
<line x1="69.10" y1="432.98" x2="69.10" y2="418.50" stroke="#124b8b" stroke-width="1.0"/>
<line x1="66.10" y1="418.50" x2="72.10" y2="418.50" stroke="#124b8b" stroke-width="1.0"/>
<line x1="51.50" y1="401.00" x2="51.50" y2="446.40" stroke="#3a3a3a" stroke-width="1.0"/>
<line x1="51.00" y1="401.50" x2="69.50" y2="401.50" stroke="#3a3a3a" stroke-width="1.0"/>
<line x1="69.50" y1="401.00" x2="69.50" y2="409.50" stroke="#3a3a3a" stroke-width="1.0"/>
<text x="58.55" y="400.00" font-size="6.6" text-anchor="middle" fill="#222">*</text>
<text x="61.85" y="400.00" font-size="6.6" text-anchor="middle" fill="#222">*</text>
<text class="yl" x="0" y="0" font-size="8.6" text-anchor="middle" fill="#222" transform="translate(14.90 460.80) rotate(-90) scale(0.7355 1)">Nodes per well in EC tube-formation</text>
<text class="pl" x="0" y="0" font-size="11.8" font-weight="bold" fill="#111" transform="translate(125.90 382.90) scale(0.95 1)">I</text>
<line x1="173.40" y1="406.00" x2="173.40" y2="517.00" stroke="#484848" stroke-width="1.5"/>
<line x1="170.40" y1="516.50" x2="173.40" y2="516.50" stroke="#484848" stroke-width="1.1"/>
<text x="167.10" y="518.70" font-size="7.85" text-anchor="end" fill="#222">0</text>
<line x1="170.40" y1="494.85" x2="173.40" y2="494.85" stroke="#484848" stroke-width="1.1"/>
<text x="167.10" y="497.05" font-size="7.85" text-anchor="end" fill="#222">2000</text>
<line x1="170.40" y1="473.20" x2="173.40" y2="473.20" stroke="#484848" stroke-width="1.1"/>
<text x="167.10" y="475.40" font-size="7.85" text-anchor="end" fill="#222">4000</text>
<line x1="170.40" y1="451.55" x2="173.40" y2="451.55" stroke="#484848" stroke-width="1.1"/>
<text x="167.10" y="453.75" font-size="7.85" text-anchor="end" fill="#222">6000</text>
<line x1="170.40" y1="429.90" x2="173.40" y2="429.90" stroke="#484848" stroke-width="1.1"/>
<text x="167.10" y="432.10" font-size="7.85" text-anchor="end" fill="#222">8000</text>
<line x1="170.40" y1="408.25" x2="173.40" y2="408.25" stroke="#484848" stroke-width="1.1"/>
<text x="167.10" y="410.45" font-size="7.85" text-anchor="end" fill="#222">10000</text>
<line x1="172.90" y1="516.50" x2="214.80" y2="516.50" stroke="#484848" stroke-width="1.5"/>
<line x1="185.60" y1="516.50" x2="185.60" y2="519.70" stroke="#484848" stroke-width="1.0"/>
<line x1="203.00" y1="516.50" x2="203.00" y2="519.70" stroke="#484848" stroke-width="1.0"/>
<rect x="180.60" y="464.11" width="10.10" height="52.39" fill="#ca0c2d"/>
<line x1="185.65" y1="464.11" x2="185.65" y2="452.31" stroke="#ca0c2d" stroke-width="1.0"/>
<line x1="182.65" y1="452.31" x2="188.65" y2="452.31" stroke="#ca0c2d" stroke-width="1.0"/>
<rect x="197.40" y="437.26" width="11.30" height="79.24" fill="#124b8b"/>
<line x1="203.05" y1="437.26" x2="203.05" y2="425.57" stroke="#124b8b" stroke-width="1.0"/>
<line x1="200.05" y1="425.57" x2="206.05" y2="425.57" stroke="#124b8b" stroke-width="1.0"/>
<line x1="185.50" y1="408.00" x2="185.50" y2="442.00" stroke="#3a3a3a" stroke-width="1.0"/>
<line x1="185.00" y1="408.50" x2="203.50" y2="408.50" stroke="#3a3a3a" stroke-width="1.0"/>
<line x1="203.50" y1="408.00" x2="203.50" y2="416.70" stroke="#3a3a3a" stroke-width="1.0"/>
<text x="192.65" y="407.90" font-size="6.6" text-anchor="middle" fill="#222">*</text>
<text x="195.95" y="407.90" font-size="6.6" text-anchor="middle" fill="#222">*</text>
<text class="yl" x="0" y="0" font-size="8.6" text-anchor="middle" fill="#222" transform="translate(133.60 460.75) rotate(-90) scale(0.7287 1)">Branching length in EC</text>
<text class="yl" x="0" y="0" font-size="8.6" text-anchor="middle" fill="#222" transform="translate(143.90 460.95) rotate(-90) scale(0.7493 1)">tube-formation per well (pixels)</text>
<rect x="43.80" y="525.30" width="4.90" height="4.90" fill="#ca0c2d"/>
<text x="52.50" y="530.50" font-size="7.4" text-anchor="start" fill="#222" textLength="57.60" lengthAdjust="spacingAndGlyphs">C5a-stim. WT plt.</text>
<text x="52.50" y="539.60" font-size="7.4" text-anchor="start" fill="#222" textLength="58.50" lengthAdjust="spacingAndGlyphs">supernatant + ctrl</text>
<rect x="116.80" y="525.40" width="4.60" height="4.60" fill="#124b8b"/>
<text x="125.20" y="530.50" font-size="7.4" text-anchor="start" fill="#222" textLength="45.00" lengthAdjust="spacingAndGlyphs">C5a-stim.WT-</text>
<text x="125.20" y="539.60" font-size="7.4" text-anchor="start" fill="#222" textLength="84.20" lengthAdjust="spacingAndGlyphs">supernatant + antiCXCR3</text>
<text class="pl" x="0" y="0" font-size="11.8" font-weight="bold" fill="#111" transform="translate(229.90 382.60) scale(0.7 1)">J</text>
<line x1="276.50" y1="389.00" x2="276.50" y2="516.50" stroke="#484848" stroke-width="1.0"/>
<line x1="273.50" y1="516.00" x2="276.50" y2="516.00" stroke="#484848" stroke-width="1.0"/>
<text x="271.50" y="518.70" font-size="7.6" text-anchor="end" fill="#222">0</text>
<line x1="273.50" y1="470.38" x2="276.50" y2="470.38" stroke="#484848" stroke-width="1.0"/>
<text x="271.50" y="473.07" font-size="7.6" text-anchor="end" fill="#222">50</text>
<line x1="273.50" y1="424.75" x2="276.50" y2="424.75" stroke="#484848" stroke-width="1.0"/>
<text x="271.50" y="427.45" font-size="7.6" text-anchor="end" fill="#222">100</text>
<line x1="276.00" y1="516.00" x2="468.50" y2="516.00" stroke="#484848" stroke-width="1.0"/>
<line x1="286.30" y1="516.00" x2="286.30" y2="518.70" stroke="#484848" stroke-width="1.0"/>
<text x="286.30" y="528.70" font-size="7.6" text-anchor="middle" fill="#222">0</text>
<line x1="310.45" y1="516.00" x2="310.45" y2="518.70" stroke="#484848" stroke-width="1.0"/>
<text x="310.45" y="528.70" font-size="7.6" text-anchor="middle" fill="#222">48</text>
<line x1="334.60" y1="516.00" x2="334.60" y2="518.70" stroke="#484848" stroke-width="1.0"/>
<text x="334.60" y="528.70" font-size="7.6" text-anchor="middle" fill="#222">96</text>
<line x1="358.75" y1="516.00" x2="358.75" y2="518.70" stroke="#484848" stroke-width="1.0"/>
<text x="358.75" y="528.70" font-size="7.6" text-anchor="middle" fill="#222">144</text>
<line x1="382.90" y1="516.00" x2="382.90" y2="518.70" stroke="#484848" stroke-width="1.0"/>
<text x="382.90" y="528.70" font-size="7.6" text-anchor="middle" fill="#222">192</text>
<line x1="407.05" y1="516.00" x2="407.05" y2="518.70" stroke="#484848" stroke-width="1.0"/>
<text x="407.05" y="528.70" font-size="7.6" text-anchor="middle" fill="#222">240</text>
<line x1="431.20" y1="516.00" x2="431.20" y2="518.70" stroke="#484848" stroke-width="1.0"/>
<text x="431.20" y="528.70" font-size="7.6" text-anchor="middle" fill="#222">288</text>
<line x1="455.35" y1="516.00" x2="455.35" y2="518.70" stroke="#484848" stroke-width="1.0"/>
<text x="455.35" y="528.70" font-size="7.6" text-anchor="middle" fill="#222">336</text>
<text x="372.60" y="541.30" font-size="8.6" text-anchor="middle" fill="#222" textLength="23.40" lengthAdjust="spacingAndGlyphs" class="yl">Time (h)</text>
<text class="yl" x="0" y="0" font-size="8.6" text-anchor="middle" fill="#222" transform="translate(241.70 452.45) rotate(-90) scale(0.7455 1)">Ischemic/non-ischemic hindlimb</text>
<text class="yl" x="0" y="0" font-size="8.6" text-anchor="middle" fill="#222" transform="translate(251.90 453.00) rotate(-90) scale(0.7553 1)">blood flow ratio (%)</text>
<path d="M281.27,427.94 L286.30,509.16 L310.45,497.11 L334.60,474.66 L358.75,465.08 L382.90,436.61 L407.05,426.12 L455.35,416.81" fill="none" stroke="#45b03f" stroke-width="1.1"/>
<line x1="281.27" y1="429.77" x2="281.27" y2="426.12" stroke="#6cc060" stroke-width="1.0"/>
<line x1="279.07" y1="426.12" x2="283.47" y2="426.12" stroke="#6cc060" stroke-width="1.0"/>
<line x1="279.07" y1="429.77" x2="283.47" y2="429.77" stroke="#6cc060" stroke-width="1.0"/>
<path d="M281.27,425.94 L283.27,429.44 L279.27,429.44Z" fill="#45b03f"/>
<line x1="286.30" y1="510.25" x2="286.30" y2="508.06" stroke="#6cc060" stroke-width="1.0"/>
<line x1="284.10" y1="508.06" x2="288.50" y2="508.06" stroke="#6cc060" stroke-width="1.0"/>
<line x1="284.10" y1="510.25" x2="288.50" y2="510.25" stroke="#6cc060" stroke-width="1.0"/>
<path d="M286.30,507.16 L288.30,510.66 L284.30,510.66Z" fill="#45b03f"/>
<line x1="310.45" y1="501.67" x2="310.45" y2="492.55" stroke="#6cc060" stroke-width="1.0"/>
<line x1="308.25" y1="492.55" x2="312.65" y2="492.55" stroke="#6cc060" stroke-width="1.0"/>
<line x1="308.25" y1="501.67" x2="312.65" y2="501.67" stroke="#6cc060" stroke-width="1.0"/>
<path d="M310.45,495.11 L312.45,498.61 L308.45,498.61Z" fill="#45b03f"/>
<line x1="334.60" y1="476.94" x2="334.60" y2="472.38" stroke="#6cc060" stroke-width="1.0"/>
<line x1="332.40" y1="472.38" x2="336.80" y2="472.38" stroke="#6cc060" stroke-width="1.0"/>
<line x1="332.40" y1="476.94" x2="336.80" y2="476.94" stroke="#6cc060" stroke-width="1.0"/>
<path d="M334.60,472.66 L336.60,476.16 L332.60,476.16Z" fill="#45b03f"/>
<line x1="358.75" y1="468.73" x2="358.75" y2="461.43" stroke="#6cc060" stroke-width="1.0"/>
<line x1="356.55" y1="461.43" x2="360.95" y2="461.43" stroke="#6cc060" stroke-width="1.0"/>
<line x1="356.55" y1="468.73" x2="360.95" y2="468.73" stroke="#6cc060" stroke-width="1.0"/>
<path d="M358.75,463.08 L360.75,466.58 L356.75,466.58Z" fill="#45b03f"/>
<line x1="382.90" y1="440.08" x2="382.90" y2="433.14" stroke="#6cc060" stroke-width="1.0"/>
<line x1="380.70" y1="433.14" x2="385.10" y2="433.14" stroke="#6cc060" stroke-width="1.0"/>
<line x1="380.70" y1="440.08" x2="385.10" y2="440.08" stroke="#6cc060" stroke-width="1.0"/>
<path d="M382.90,434.61 L384.90,438.11 L380.90,438.11Z" fill="#45b03f"/>
<line x1="407.05" y1="432.05" x2="407.05" y2="420.19" stroke="#6cc060" stroke-width="1.0"/>
<line x1="404.85" y1="420.19" x2="409.25" y2="420.19" stroke="#6cc060" stroke-width="1.0"/>
<line x1="404.85" y1="432.05" x2="409.25" y2="432.05" stroke="#6cc060" stroke-width="1.0"/>
<path d="M407.05,424.12 L409.05,427.62 L405.05,427.62Z" fill="#45b03f"/>
<line x1="455.35" y1="422.29" x2="455.35" y2="411.34" stroke="#6cc060" stroke-width="1.0"/>
<line x1="453.15" y1="411.34" x2="457.55" y2="411.34" stroke="#6cc060" stroke-width="1.0"/>
<line x1="453.15" y1="422.29" x2="457.55" y2="422.29" stroke="#6cc060" stroke-width="1.0"/>
<path d="M455.35,414.81 L457.35,418.31 L453.35,418.31Z" fill="#45b03f"/>
<path d="M281.27,427.94 L286.30,508.70 L310.45,490.45 L334.60,457.60 L358.75,440.63 L382.90,413.80 L407.05,409.24 L455.35,409.24" fill="none" stroke="#45b03f" stroke-width="1.1"/>
<line x1="281.27" y1="429.77" x2="281.27" y2="426.12" stroke="#6cc060" stroke-width="1.0"/>
<line x1="279.07" y1="426.12" x2="283.47" y2="426.12" stroke="#6cc060" stroke-width="1.0"/>
<line x1="279.07" y1="429.77" x2="283.47" y2="429.77" stroke="#6cc060" stroke-width="1.0"/>
<path d="M281.27,425.94 L283.27,429.44 L279.27,429.44Z" fill="#45b03f"/>
<line x1="286.30" y1="509.80" x2="286.30" y2="507.61" stroke="#6cc060" stroke-width="1.0"/>
<line x1="284.10" y1="507.61" x2="288.50" y2="507.61" stroke="#6cc060" stroke-width="1.0"/>
<line x1="284.10" y1="509.80" x2="288.50" y2="509.80" stroke="#6cc060" stroke-width="1.0"/>
<path d="M286.30,506.70 L288.30,510.20 L284.30,510.20Z" fill="#45b03f"/>
<line x1="310.45" y1="493.19" x2="310.45" y2="487.71" stroke="#6cc060" stroke-width="1.0"/>
<line x1="308.25" y1="487.71" x2="312.65" y2="487.71" stroke="#6cc060" stroke-width="1.0"/>
<line x1="308.25" y1="493.19" x2="312.65" y2="493.19" stroke="#6cc060" stroke-width="1.0"/>
<path d="M310.45,488.45 L312.45,491.95 L308.45,491.95Z" fill="#45b03f"/>
<line x1="334.60" y1="462.16" x2="334.60" y2="453.04" stroke="#6cc060" stroke-width="1.0"/>
<line x1="332.40" y1="453.04" x2="336.80" y2="453.04" stroke="#6cc060" stroke-width="1.0"/>
<line x1="332.40" y1="462.16" x2="336.80" y2="462.16" stroke="#6cc060" stroke-width="1.0"/>
<path d="M334.60,455.60 L336.60,459.10 L332.60,459.10Z" fill="#45b03f"/>
<line x1="358.75" y1="445.65" x2="358.75" y2="435.61" stroke="#6cc060" stroke-width="1.0"/>
<line x1="356.55" y1="435.61" x2="360.95" y2="435.61" stroke="#6cc060" stroke-width="1.0"/>
<line x1="356.55" y1="445.65" x2="360.95" y2="445.65" stroke="#6cc060" stroke-width="1.0"/>
<path d="M358.75,438.63 L360.75,442.13 L356.75,442.13Z" fill="#45b03f"/>
<line x1="382.90" y1="421.10" x2="382.90" y2="406.50" stroke="#6cc060" stroke-width="1.0"/>
<line x1="380.70" y1="406.50" x2="385.10" y2="406.50" stroke="#6cc060" stroke-width="1.0"/>
<line x1="380.70" y1="421.10" x2="385.10" y2="421.10" stroke="#6cc060" stroke-width="1.0"/>
<path d="M382.90,411.80 L384.90,415.30 L380.90,415.30Z" fill="#45b03f"/>
<line x1="407.05" y1="417.91" x2="407.05" y2="400.57" stroke="#6cc060" stroke-width="1.0"/>
<line x1="404.85" y1="400.57" x2="409.25" y2="400.57" stroke="#6cc060" stroke-width="1.0"/>
<line x1="404.85" y1="417.91" x2="409.25" y2="417.91" stroke="#6cc060" stroke-width="1.0"/>
<path d="M407.05,407.24 L409.05,410.74 L405.05,410.74Z" fill="#45b03f"/>
<line x1="455.35" y1="416.99" x2="455.35" y2="401.48" stroke="#6cc060" stroke-width="1.0"/>
<line x1="453.15" y1="401.48" x2="457.55" y2="401.48" stroke="#6cc060" stroke-width="1.0"/>
<line x1="453.15" y1="416.99" x2="457.55" y2="416.99" stroke="#6cc060" stroke-width="1.0"/>
<path d="M455.35,407.24 L457.35,410.74 L453.35,410.74Z" fill="#45b03f"/>
<path d="M286.30,506.24 L310.45,484.61 L334.60,451.21 L358.75,425.21 L382.90,413.80 L407.05,419.27 L455.35,411.98" fill="none" stroke="#2c4f80" stroke-width="1.1"/>
<line x1="281.27" y1="426.12" x2="281.27" y2="419.73" stroke="#5876a6" stroke-width="1.0"/>
<line x1="279.07" y1="419.73" x2="283.47" y2="419.73" stroke="#5876a6" stroke-width="1.0"/>
<line x1="279.07" y1="426.12" x2="283.47" y2="426.12" stroke="#5876a6" stroke-width="1.0"/>
<path d="M281.27,421.03 L283.17,422.93 L281.27,424.82 L279.37,422.93Z" fill="#fff" stroke="#2c4f80" stroke-width="1.2"/>
<line x1="286.30" y1="507.61" x2="286.30" y2="504.87" stroke="#5876a6" stroke-width="1.0"/>
<line x1="284.10" y1="504.87" x2="288.50" y2="504.87" stroke="#5876a6" stroke-width="1.0"/>
<line x1="284.10" y1="507.61" x2="288.50" y2="507.61" stroke="#5876a6" stroke-width="1.0"/>
<path d="M286.30,504.34 L288.20,506.24 L286.30,508.14 L284.40,506.24Z" fill="#fff" stroke="#2c4f80" stroke-width="1.2"/>
<line x1="310.45" y1="489.63" x2="310.45" y2="479.59" stroke="#5876a6" stroke-width="1.0"/>
<line x1="308.25" y1="479.59" x2="312.65" y2="479.59" stroke="#5876a6" stroke-width="1.0"/>
<line x1="308.25" y1="489.63" x2="312.65" y2="489.63" stroke="#5876a6" stroke-width="1.0"/>
<path d="M310.45,482.71 L312.35,484.61 L310.45,486.51 L308.55,484.61Z" fill="#fff" stroke="#2c4f80" stroke-width="1.2"/>
<line x1="334.60" y1="461.25" x2="334.60" y2="441.18" stroke="#5876a6" stroke-width="1.0"/>
<line x1="332.40" y1="441.18" x2="336.80" y2="441.18" stroke="#5876a6" stroke-width="1.0"/>
<line x1="332.40" y1="461.25" x2="336.80" y2="461.25" stroke="#5876a6" stroke-width="1.0"/>
<path d="M334.60,449.31 L336.50,451.21 L334.60,453.11 L332.70,451.21Z" fill="#fff" stroke="#2c4f80" stroke-width="1.2"/>
<line x1="358.75" y1="435.24" x2="358.75" y2="415.17" stroke="#5876a6" stroke-width="1.0"/>
<line x1="356.55" y1="415.17" x2="360.95" y2="415.17" stroke="#5876a6" stroke-width="1.0"/>
<line x1="356.55" y1="435.24" x2="360.95" y2="435.24" stroke="#5876a6" stroke-width="1.0"/>
<path d="M358.75,423.31 L360.65,425.21 L358.75,427.11 L356.85,425.21Z" fill="#fff" stroke="#2c4f80" stroke-width="1.2"/>
<line x1="382.90" y1="422.01" x2="382.90" y2="405.59" stroke="#5876a6" stroke-width="1.0"/>
<line x1="380.70" y1="405.59" x2="385.10" y2="405.59" stroke="#5876a6" stroke-width="1.0"/>
<line x1="380.70" y1="422.01" x2="385.10" y2="422.01" stroke="#5876a6" stroke-width="1.0"/>
<path d="M382.90,411.90 L384.80,413.80 L382.90,415.70 L381.00,413.80Z" fill="#fff" stroke="#2c4f80" stroke-width="1.2"/>
<line x1="407.05" y1="425.66" x2="407.05" y2="412.89" stroke="#5876a6" stroke-width="1.0"/>
<line x1="404.85" y1="412.89" x2="409.25" y2="412.89" stroke="#5876a6" stroke-width="1.0"/>
<line x1="404.85" y1="425.66" x2="409.25" y2="425.66" stroke="#5876a6" stroke-width="1.0"/>
<path d="M407.05,417.38 L408.95,419.27 L407.05,421.17 L405.15,419.27Z" fill="#fff" stroke="#2c4f80" stroke-width="1.2"/>
<line x1="455.35" y1="416.54" x2="455.35" y2="407.41" stroke="#5876a6" stroke-width="1.0"/>
<line x1="453.15" y1="407.41" x2="457.55" y2="407.41" stroke="#5876a6" stroke-width="1.0"/>
<line x1="453.15" y1="416.54" x2="457.55" y2="416.54" stroke="#5876a6" stroke-width="1.0"/>
<path d="M455.35,410.08 L457.25,411.98 L455.35,413.88 L453.45,411.98Z" fill="#fff" stroke="#2c4f80" stroke-width="1.2"/>
<text x="310.45" y="478.00" font-size="7.6" text-anchor="middle" fill="#222">ns</text>
<text x="334.60" y="439.10" font-size="7.6" text-anchor="middle" fill="#222">ns</text>
<text x="358.75" y="413.00" font-size="7.6" text-anchor="middle" fill="#222">ns</text>
<text x="382.90" y="403.80" font-size="7.6" text-anchor="middle" fill="#222">ns</text>
<text x="407.05" y="398.00" font-size="7.6" text-anchor="middle" fill="#222">ns</text>
<text x="455.35" y="398.00" font-size="7.6" text-anchor="middle" fill="#222">ns</text>
<line x1="414.20" y1="488.80" x2="425.20" y2="488.80" stroke="#2c4f80" stroke-width="1.1"/>
<path d="M419.6,486.7 L421.7,488.8 L419.6,490.9 L417.5,488.8Z" fill="#fff" stroke="#2c4f80" stroke-width="1.1"/>
<text x="428.60" y="492.00" font-size="7.4" text-anchor="start" fill="#222">C5aR1<tspan class="sp" font-size="4.6" dy="-2.8">−/−</tspan><tspan dy="2.8">CXCL4</tspan><tspan class="sp" font-size="4.6" dy="-2.8">−/−</tspan></text>
<line x1="414.20" y1="502.50" x2="425.20" y2="502.50" stroke="#45b03f" stroke-width="1.1"/>
<path d="M419.6,500.4 L421.8,504.1 L417.4,504.1Z" fill="#45b03f"/>
<text x="428.60" y="505.70" font-size="7.4" text-anchor="start" fill="#222">C5aR1<tspan class="sp" font-size="4.6" dy="-2.8">−/−</tspan></text>
<text class="pl" x="0" y="0" font-size="11.8" font-weight="bold" fill="#111" transform="translate(5.60 558.10) scale(0.88 1)">K</text>
<rect x="42.50" y="577" width="439.20" height="76" fill="#79797b"/>
<defs>
<radialGradient id="paw" cx="0.5" cy="0.6" r="0.55">
<stop offset="0" stop-color="#ffe21a"/><stop offset="0.35" stop-color="#ff9a10"/><stop offset="0.7" stop-color="#e0200c"/><stop offset="1" stop-color="#b01010"/></radialGradient>
<radialGradient id="pawc" cx="0.5" cy="0.6" r="0.55">
<stop offset="0" stop-color="#f0d030"/><stop offset="0.4" stop-color="#e89030"/><stop offset="0.75" stop-color="#40b0d0"/><stop offset="1" stop-color="#2a80c8"/></radialGradient>
<radialGradient id="pawb" cx="0.5" cy="0.5" r="0.55">
<stop offset="0" stop-color="#50c8e0"/><stop offset="0.6" stop-color="#2a8ad8"/><stop offset="1" stop-color="#1e5cc0"/></radialGradient>
<filter id="speck" x="0" y="0" width="100%" height="100%"><feTurbulence type="fractalNoise" baseFrequency="0.9" numOctaves="1" seed="3" result="n"/><feColorMatrix in="n" type="matrix" values="0 0 0 0 0.35  0 0 0 0 0.8  0 0 0 0 0.95  0 0 0 2.2 -1.25" result="c"/><feComposite in="c" in2="SourceAlpha" operator="in"/></filter>
<clipPath id="kclip"><rect x="42.5" y="577" width="439.2" height="76"/></clipPath>
</defs>
<g clip-path="url(#kclip)"><g id="kg">
<path d="M54.61,589.61 L52.99,611.71 L58.01,612.29 L61.39,590.39Z" fill="#2466cc" fill-opacity="1.0"/>
<ellipse cx="55.50" cy="612.00" rx="2.53" ry="2.53" fill="#2466cc" fill-opacity="1.0"/>
<path d="M55.96,589.77 L54.12,611.84 L56.88,612.16 L60.04,590.23Z" fill="#3a9ae4" fill-opacity="0.85"/>
<ellipse cx="55.50" cy="612.00" rx="1.39" ry="1.39" fill="#3a9ae4" fill-opacity="0.85"/>
<line x1="58.00" y1="590.00" x2="55.50" y2="612.00" stroke="#e07020" stroke-width="1.3"/>
<g transform="rotate(0 58.7 585.0)">
<line x1="58.70" y1="587.44" x2="53.46" y2="583.34" stroke="#d41c10" stroke-width="3.1" stroke-linecap="round"/>
<line x1="58.70" y1="587.44" x2="55.29" y2="584.77" stroke="#f06a12" stroke-width="1.2" stroke-linecap="round"/>
<line x1="58.70" y1="587.44" x2="55.84" y2="579.58" stroke="#d41c10" stroke-width="3.1" stroke-linecap="round"/>
<line x1="58.70" y1="587.44" x2="56.84" y2="582.33" stroke="#f06a12" stroke-width="1.2" stroke-linecap="round"/>
<line x1="58.70" y1="587.44" x2="60.18" y2="579.04" stroke="#d41c10" stroke-width="3.1" stroke-linecap="round"/>
<line x1="58.70" y1="587.44" x2="59.66" y2="581.98" stroke="#f06a12" stroke-width="1.2" stroke-linecap="round"/>
<line x1="58.70" y1="587.44" x2="63.55" y2="582.05" stroke="#d41c10" stroke-width="3.1" stroke-linecap="round"/>
<line x1="58.70" y1="587.44" x2="61.85" y2="583.94" stroke="#f06a12" stroke-width="1.2" stroke-linecap="round"/>
<ellipse cx="58.70" cy="587.44" rx="4.84" ry="4.06" fill="#d41c10"/>
<ellipse cx="58.70" cy="587.14" rx="3.90" ry="3.25" fill="#f06a12"/>
<ellipse cx="58.70" cy="586.94" rx="2.50" ry="2.11" fill="#ffd21c"/>
</g>
<path d="M70.5,577.0 Q74.8,595.5 79.0,614.0" fill="none" stroke="#2466cc" stroke-width="8.5"/>
<path d="M70.5,577.0 Q74.8,595.5 79.0,614.0" fill="none" stroke="#2a78dc" stroke-width="3.83"/>
<path d="M74.0,577.0 Q78.2,595.5 82.5,614.0" fill="none" stroke="#3cc0e4" stroke-width="1.1"/>
<path d="M83.19,590.83 L89.55,612.61 L94.45,611.39 L89.81,589.17Z" fill="#2466cc" fill-opacity="1.0"/>
<ellipse cx="92.00" cy="612.00" rx="2.53" ry="2.53" fill="#2466cc" fill-opacity="1.0"/>
<path d="M84.51,590.50 L90.65,612.34 L93.35,611.66 L88.49,589.50Z" fill="#3a9ae4" fill-opacity="0.85"/>
<ellipse cx="92.00" cy="612.00" rx="1.39" ry="1.39" fill="#3a9ae4" fill-opacity="0.85"/>
<line x1="86.50" y1="590.00" x2="92.00" y2="612.00" stroke="#d86a20" stroke-width="1.3"/>
<g transform="rotate(-8 85.5 584.6)">
<line x1="85.50" y1="586.95" x2="80.45" y2="583.00" stroke="#d41c10" stroke-width="3.1" stroke-linecap="round"/>
<line x1="85.50" y1="586.95" x2="82.22" y2="584.38" stroke="#f06a12" stroke-width="1.2" stroke-linecap="round"/>
<line x1="85.50" y1="586.95" x2="82.74" y2="579.38" stroke="#d41c10" stroke-width="3.1" stroke-linecap="round"/>
<line x1="85.50" y1="586.95" x2="83.71" y2="582.03" stroke="#f06a12" stroke-width="1.2" stroke-linecap="round"/>
<line x1="85.50" y1="586.95" x2="86.93" y2="578.85" stroke="#d41c10" stroke-width="3.1" stroke-linecap="round"/>
<line x1="85.50" y1="586.95" x2="86.43" y2="581.69" stroke="#f06a12" stroke-width="1.2" stroke-linecap="round"/>
<line x1="85.50" y1="586.95" x2="90.18" y2="581.76" stroke="#d41c10" stroke-width="3.1" stroke-linecap="round"/>
<line x1="85.50" y1="586.95" x2="88.54" y2="583.57" stroke="#f06a12" stroke-width="1.2" stroke-linecap="round"/>
<ellipse cx="85.50" cy="586.95" rx="4.65" ry="3.92" fill="#d41c10"/>
<ellipse cx="85.50" cy="586.65" rx="3.75" ry="3.13" fill="#f06a12"/>
<ellipse cx="85.50" cy="586.45" rx="2.40" ry="2.04" fill="#ffd21c"/>
</g>
<path d="M104.25,595.06 L101.23,611.31 L106.77,612.69 L111.75,596.94Z" fill="#2466cc" fill-opacity="1.0"/>
<ellipse cx="104.00" cy="612.00" rx="2.86" ry="2.86" fill="#2466cc" fill-opacity="1.0"/>
<path d="M105.75,595.44 L102.47,611.62 L105.53,612.38 L110.25,596.56Z" fill="#3a9ae4" fill-opacity="0.85"/>
<ellipse cx="104.00" cy="612.00" rx="1.57" ry="1.57" fill="#3a9ae4" fill-opacity="0.85"/>
<line x1="108.00" y1="596.00" x2="104.00" y2="612.00" stroke="#3cc0e4" stroke-width="1.4"/>
<g transform="rotate(8 109.0 590.5)">
<line x1="109.00" y1="592.94" x2="103.76" y2="588.84" stroke="#d41c10" stroke-width="3.1" stroke-linecap="round"/>
<line x1="109.00" y1="592.94" x2="105.59" y2="590.27" stroke="#f06a12" stroke-width="1.2" stroke-linecap="round"/>
<line x1="109.00" y1="592.94" x2="106.14" y2="585.08" stroke="#d41c10" stroke-width="3.1" stroke-linecap="round"/>
<line x1="109.00" y1="592.94" x2="107.14" y2="587.83" stroke="#f06a12" stroke-width="1.2" stroke-linecap="round"/>
<line x1="109.00" y1="592.94" x2="110.48" y2="584.54" stroke="#d41c10" stroke-width="3.1" stroke-linecap="round"/>
<line x1="109.00" y1="592.94" x2="109.96" y2="587.48" stroke="#f06a12" stroke-width="1.2" stroke-linecap="round"/>
<line x1="109.00" y1="592.94" x2="113.85" y2="587.55" stroke="#d41c10" stroke-width="3.1" stroke-linecap="round"/>
<line x1="109.00" y1="592.94" x2="112.15" y2="589.44" stroke="#f06a12" stroke-width="1.2" stroke-linecap="round"/>
<ellipse cx="109.00" cy="592.94" rx="4.65" ry="4.06" fill="#d41c10"/>
<ellipse cx="109.00" cy="592.64" rx="3.75" ry="3.25" fill="#f06a12"/>
<ellipse cx="109.00" cy="592.44" rx="2.40" ry="2.11" fill="#ffd21c"/>
</g>
<path d="M121.5,577.0 Q118.5,594.0 121.5,611.0" fill="none" stroke="#2466cc" stroke-width="6.0"/>
<path d="M121.5,577.0 Q118.5,594.0 121.5,611.0" fill="none" stroke="#2a78dc" stroke-width="2.70"/>
<path d="M119.3,577.0 Q116.3,594.0 119.3,611.0" fill="none" stroke="#3cc0e4" stroke-width="1.1"/>
<path d="M136.75,587.85 L136.90,609.88 L143.50,610.12 L145.25,588.15Z" fill="#1a48b4" fill-opacity="1.0"/>
<ellipse cx="140.20" cy="610.00" rx="3.30" ry="3.30" fill="#1a48b4" fill-opacity="1.0"/>
<path d="M138.45,587.91 L138.39,609.93 L142.01,610.07 L143.55,588.09Z" fill="#3a9ae4" fill-opacity="0.85"/>
<ellipse cx="140.20" cy="610.00" rx="1.82" ry="1.82" fill="#3a9ae4" fill-opacity="0.85"/>
<g transform="rotate(0 141.0 587.0)">
<line x1="141.00" y1="588.83" x2="137.07" y2="585.76" stroke="#2a7ad8" stroke-width="3.1" stroke-linecap="round"/>
<line x1="141.00" y1="588.83" x2="138.45" y2="586.83" stroke="#3aa0e0" stroke-width="1.2" stroke-linecap="round"/>
<line x1="141.00" y1="588.83" x2="138.86" y2="582.94" stroke="#2a7ad8" stroke-width="3.1" stroke-linecap="round"/>
<line x1="141.00" y1="588.83" x2="139.61" y2="585.00" stroke="#3aa0e0" stroke-width="1.2" stroke-linecap="round"/>
<line x1="141.00" y1="588.83" x2="142.11" y2="582.53" stroke="#2a7ad8" stroke-width="3.1" stroke-linecap="round"/>
<line x1="141.00" y1="588.83" x2="141.72" y2="584.73" stroke="#3aa0e0" stroke-width="1.2" stroke-linecap="round"/>
<line x1="141.00" y1="588.83" x2="144.64" y2="584.79" stroke="#2a7ad8" stroke-width="3.1" stroke-linecap="round"/>
<line x1="141.00" y1="588.83" x2="143.36" y2="586.20" stroke="#3aa0e0" stroke-width="1.2" stroke-linecap="round"/>
<ellipse cx="141.00" cy="588.83" rx="4.28" ry="3.04" fill="#2a7ad8"/>
<ellipse cx="141.00" cy="588.53" rx="3.45" ry="2.44" fill="#3aa0e0"/>
<ellipse cx="141.00" cy="588.33" rx="2.21" ry="1.58" fill="#60d0e8"/>
</g>
<path d="M159.98,590.94 L156.02,610.22 L161.98,611.78 L168.02,593.06Z" fill="#2466cc" fill-opacity="1.0"/>
<ellipse cx="159.00" cy="611.00" rx="3.08" ry="3.08" fill="#2466cc" fill-opacity="1.0"/>
<path d="M161.59,591.37 L157.36,610.57 L160.64,611.43 L166.41,592.63Z" fill="#3a9ae4" fill-opacity="0.85"/>
<ellipse cx="159.00" cy="611.00" rx="1.69" ry="1.69" fill="#3a9ae4" fill-opacity="0.85"/>
<line x1="164.00" y1="592.00" x2="159.00" y2="611.00" stroke="#3cc0e4" stroke-width="1.3"/>
<g transform="rotate(0 165.5 585.0)">
<line x1="165.50" y1="587.61" x2="159.89" y2="583.22" stroke="#d41c10" stroke-width="3.1" stroke-linecap="round"/>
<line x1="165.50" y1="587.61" x2="161.85" y2="584.76" stroke="#f06a12" stroke-width="1.2" stroke-linecap="round"/>
<line x1="165.50" y1="587.61" x2="162.44" y2="579.20" stroke="#d41c10" stroke-width="3.1" stroke-linecap="round"/>
<line x1="165.50" y1="587.61" x2="163.51" y2="582.14" stroke="#f06a12" stroke-width="1.2" stroke-linecap="round"/>
<line x1="165.50" y1="587.61" x2="167.09" y2="578.61" stroke="#d41c10" stroke-width="3.1" stroke-linecap="round"/>
<line x1="165.50" y1="587.61" x2="166.53" y2="581.76" stroke="#f06a12" stroke-width="1.2" stroke-linecap="round"/>
<line x1="165.50" y1="587.61" x2="170.70" y2="581.84" stroke="#d41c10" stroke-width="3.1" stroke-linecap="round"/>
<line x1="165.50" y1="587.61" x2="168.88" y2="583.86" stroke="#f06a12" stroke-width="1.2" stroke-linecap="round"/>
<ellipse cx="165.50" cy="587.61" rx="4.09" ry="4.35" fill="#d41c10"/>
<ellipse cx="165.50" cy="587.31" rx="3.30" ry="3.48" fill="#f06a12"/>
<ellipse cx="165.50" cy="587.11" rx="2.11" ry="2.26" fill="#ffd21c"/>
</g>
<path d="M178.5,577.0 Q179.0,594.0 179.5,611.0" fill="none" stroke="#2466cc" stroke-width="6.5"/>
<path d="M178.5,577.0 Q179.0,594.0 179.5,611.0" fill="none" stroke="#2a78dc" stroke-width="2.93"/>
<path d="M180.9,577.0 Q181.4,594.0 181.9,611.0" fill="none" stroke="#3cc0e4" stroke-width="1.1"/>
<path d="M192.56,588.39 L195.71,611.29 L202.29,610.71 L201.44,587.61Z" fill="#2466cc" fill-opacity="1.0"/>
<ellipse cx="199.00" cy="611.00" rx="3.30" ry="3.30" fill="#2466cc" fill-opacity="1.0"/>
<path d="M194.34,588.23 L197.19,611.16 L200.81,610.84 L199.66,587.77Z" fill="#3a9ae4" fill-opacity="0.85"/>
<ellipse cx="199.00" cy="611.00" rx="1.82" ry="1.82" fill="#3a9ae4" fill-opacity="0.85"/>
<line x1="197.00" y1="588.00" x2="199.00" y2="611.00" stroke="#3cc0e4" stroke-width="1.2"/>
<g transform="rotate(0 196.7 584.6)">
<line x1="196.70" y1="586.95" x2="191.65" y2="583.00" stroke="#2a7ad8" stroke-width="3.1" stroke-linecap="round"/>
<line x1="196.70" y1="586.95" x2="193.42" y2="584.38" stroke="#3aa0e0" stroke-width="1.2" stroke-linecap="round"/>
<line x1="196.70" y1="586.95" x2="193.94" y2="579.38" stroke="#2a7ad8" stroke-width="3.1" stroke-linecap="round"/>
<line x1="196.70" y1="586.95" x2="194.91" y2="582.03" stroke="#3aa0e0" stroke-width="1.2" stroke-linecap="round"/>
<line x1="196.70" y1="586.95" x2="198.13" y2="578.85" stroke="#2a7ad8" stroke-width="3.1" stroke-linecap="round"/>
<line x1="196.70" y1="586.95" x2="197.63" y2="581.69" stroke="#3aa0e0" stroke-width="1.2" stroke-linecap="round"/>
<line x1="196.70" y1="586.95" x2="201.38" y2="581.76" stroke="#2a7ad8" stroke-width="3.1" stroke-linecap="round"/>
<line x1="196.70" y1="586.95" x2="199.74" y2="583.57" stroke="#3aa0e0" stroke-width="1.2" stroke-linecap="round"/>
<ellipse cx="196.70" cy="586.95" rx="4.65" ry="3.92" fill="#2a7ad8"/>
<ellipse cx="196.70" cy="586.65" rx="3.75" ry="3.13" fill="#3aa0e0"/>
<ellipse cx="196.70" cy="586.45" rx="2.40" ry="2.04" fill="#60d0e8"/>
</g>
<path d="M214.04,591.37 L212.07,610.54 L217.93,611.46 L221.96,592.63Z" fill="#2466cc" fill-opacity="1.0"/>
<ellipse cx="215.00" cy="611.00" rx="2.97" ry="2.97" fill="#2466cc" fill-opacity="1.0"/>
<path d="M215.62,591.62 L213.39,610.75 L216.61,611.25 L220.38,592.38Z" fill="#3a9ae4" fill-opacity="0.85"/>
<ellipse cx="215.00" cy="611.00" rx="1.63" ry="1.63" fill="#3a9ae4" fill-opacity="0.85"/>
<line x1="218.00" y1="592.00" x2="215.00" y2="611.00" stroke="#3cc0e4" stroke-width="1.3"/>
<g transform="rotate(0 219.5 585.0)">
<line x1="219.50" y1="587.52" x2="214.07" y2="583.28" stroke="#d41c10" stroke-width="3.1" stroke-linecap="round"/>
<line x1="219.50" y1="587.52" x2="215.97" y2="584.77" stroke="#f06a12" stroke-width="1.2" stroke-linecap="round"/>
<line x1="219.50" y1="587.52" x2="216.54" y2="579.39" stroke="#d41c10" stroke-width="3.1" stroke-linecap="round"/>
<line x1="219.50" y1="587.52" x2="217.58" y2="582.24" stroke="#f06a12" stroke-width="1.2" stroke-linecap="round"/>
<line x1="219.50" y1="587.52" x2="221.03" y2="578.83" stroke="#d41c10" stroke-width="3.1" stroke-linecap="round"/>
<line x1="219.50" y1="587.52" x2="220.50" y2="581.87" stroke="#f06a12" stroke-width="1.2" stroke-linecap="round"/>
<line x1="219.50" y1="587.52" x2="224.52" y2="581.95" stroke="#d41c10" stroke-width="3.1" stroke-linecap="round"/>
<line x1="219.50" y1="587.52" x2="222.76" y2="583.90" stroke="#f06a12" stroke-width="1.2" stroke-linecap="round"/>
<ellipse cx="219.50" cy="587.52" rx="4.46" ry="4.21" fill="#d41c10"/>
<ellipse cx="219.50" cy="587.22" rx="3.60" ry="3.36" fill="#f06a12"/>
<ellipse cx="219.50" cy="587.02" rx="2.30" ry="2.19" fill="#ffd21c"/>
</g>
<path d="M238.3,577.0 Q235.6,591.5 232.9,606.0" fill="none" stroke="#2466cc" stroke-width="7"/>
<path d="M238.3,577.0 Q235.6,591.5 232.9,606.0" fill="none" stroke="#2a78dc" stroke-width="3.15"/>
<path d="M241.0,577.0 Q238.3,591.5 235.6,606.0" fill="none" stroke="#3cc0e4" stroke-width="1.1"/>
<path d="M247.86,592.44 L250.94,611.32 L257.06,610.68 L256.14,591.56Z" fill="#2466cc" fill-opacity="1.0"/>
<ellipse cx="254.00" cy="611.00" rx="3.08" ry="3.08" fill="#2466cc" fill-opacity="1.0"/>
<path d="M249.52,592.26 L252.32,611.18 L255.68,610.82 L254.48,591.74Z" fill="#3a9ae4" fill-opacity="0.85"/>
<ellipse cx="254.00" cy="611.00" rx="1.69" ry="1.69" fill="#3a9ae4" fill-opacity="0.85"/>
<line x1="252.00" y1="592.00" x2="254.00" y2="611.00" stroke="#3cc0e4" stroke-width="1.3"/>
<g transform="rotate(0 251.2 584.6)">
<line x1="251.20" y1="587.04" x2="245.96" y2="582.94" stroke="#d8a028" stroke-width="3.1" stroke-linecap="round"/>
<line x1="251.20" y1="587.04" x2="247.79" y2="584.37" stroke="#e8c040" stroke-width="1.2" stroke-linecap="round"/>
<line x1="251.20" y1="587.04" x2="248.34" y2="579.18" stroke="#d8a028" stroke-width="3.1" stroke-linecap="round"/>
<line x1="251.20" y1="587.04" x2="249.34" y2="581.93" stroke="#e8c040" stroke-width="1.2" stroke-linecap="round"/>
<line x1="251.20" y1="587.04" x2="252.68" y2="578.64" stroke="#d8a028" stroke-width="3.1" stroke-linecap="round"/>
<line x1="251.20" y1="587.04" x2="252.16" y2="581.58" stroke="#e8c040" stroke-width="1.2" stroke-linecap="round"/>
<line x1="251.20" y1="587.04" x2="256.05" y2="581.65" stroke="#d8a028" stroke-width="3.1" stroke-linecap="round"/>
<line x1="251.20" y1="587.04" x2="254.35" y2="583.54" stroke="#e8c040" stroke-width="1.2" stroke-linecap="round"/>
<ellipse cx="251.20" cy="587.04" rx="4.84" ry="4.06" fill="#d8a028"/>
<ellipse cx="251.20" cy="586.74" rx="3.90" ry="3.25" fill="#e8c040"/>
<ellipse cx="251.20" cy="586.54" rx="2.50" ry="2.11" fill="#f4e060"/>
</g>
<path d="M51.92,631.02 L47.35,651.27 L52.65,652.73 L59.08,632.98Z" fill="#2466cc" fill-opacity="1.0"/>
<ellipse cx="50.00" cy="652.00" rx="2.75" ry="2.75" fill="#2466cc" fill-opacity="1.0"/>
<path d="M53.35,631.41 L48.54,651.60 L51.46,652.40 L57.65,632.59Z" fill="#3a9ae4" fill-opacity="0.85"/>
<ellipse cx="50.00" cy="652.00" rx="1.51" ry="1.51" fill="#3a9ae4" fill-opacity="0.85"/>
<line x1="55.50" y1="632.00" x2="50.00" y2="652.00" stroke="#3cc0e4" stroke-width="1.3"/>
<g transform="rotate(20 57.5 625.5)">
<line x1="57.50" y1="628.02" x2="52.07" y2="623.78" stroke="#d41c10" stroke-width="3.1" stroke-linecap="round"/>
<line x1="57.50" y1="628.02" x2="53.97" y2="625.27" stroke="#f06a12" stroke-width="1.2" stroke-linecap="round"/>
<line x1="57.50" y1="628.02" x2="54.54" y2="619.89" stroke="#d41c10" stroke-width="3.1" stroke-linecap="round"/>
<line x1="57.50" y1="628.02" x2="55.58" y2="622.74" stroke="#f06a12" stroke-width="1.2" stroke-linecap="round"/>
<line x1="57.50" y1="628.02" x2="59.03" y2="619.33" stroke="#d41c10" stroke-width="3.1" stroke-linecap="round"/>
<line x1="57.50" y1="628.02" x2="58.50" y2="622.37" stroke="#f06a12" stroke-width="1.2" stroke-linecap="round"/>
<line x1="57.50" y1="628.02" x2="62.52" y2="622.45" stroke="#d41c10" stroke-width="3.1" stroke-linecap="round"/>
<line x1="57.50" y1="628.02" x2="60.76" y2="624.40" stroke="#f06a12" stroke-width="1.2" stroke-linecap="round"/>
<ellipse cx="57.50" cy="628.02" rx="4.84" ry="4.21" fill="#d41c10"/>
<ellipse cx="57.50" cy="627.72" rx="3.90" ry="3.36" fill="#f06a12"/>
<ellipse cx="57.50" cy="627.52" rx="2.50" ry="2.19" fill="#ffd21c"/>
</g>
<path d="M68.0,615.0 Q69.5,633.0 71.0,651.0" fill="none" stroke="#2466cc" stroke-width="7.5"/>
<path d="M68.0,615.0 Q69.5,633.0 71.0,651.0" fill="none" stroke="#2a78dc" stroke-width="3.38"/>
<path d="M65.0,615.0 Q66.5,633.0 68.0,651.0" fill="none" stroke="#3cc0e4" stroke-width="1.1"/>
<path d="M81.68,633.66 L92.54,653.23 L97.46,650.77 L88.32,630.34Z" fill="#2466cc" fill-opacity="1.0"/>
<ellipse cx="95.00" cy="652.00" rx="2.75" ry="2.75" fill="#2466cc" fill-opacity="1.0"/>
<path d="M83.01,633.00 L93.65,652.68 L96.35,651.32 L86.99,631.00Z" fill="#3a9ae4" fill-opacity="0.85"/>
<ellipse cx="95.00" cy="652.00" rx="1.51" ry="1.51" fill="#3a9ae4" fill-opacity="0.85"/>
<line x1="85.00" y1="632.00" x2="95.00" y2="652.00" stroke="#3cc0e4" stroke-width="1.3"/>
<g transform="rotate(-22 82.4 623.2)">
<line x1="82.40" y1="625.72" x2="76.97" y2="621.48" stroke="#d41c10" stroke-width="3.1" stroke-linecap="round"/>
<line x1="82.40" y1="625.72" x2="78.87" y2="622.97" stroke="#f06a12" stroke-width="1.2" stroke-linecap="round"/>
<line x1="82.40" y1="625.72" x2="79.44" y2="617.59" stroke="#d41c10" stroke-width="3.1" stroke-linecap="round"/>
<line x1="82.40" y1="625.72" x2="80.48" y2="620.44" stroke="#f06a12" stroke-width="1.2" stroke-linecap="round"/>
<line x1="82.40" y1="625.72" x2="83.93" y2="617.03" stroke="#d41c10" stroke-width="3.1" stroke-linecap="round"/>
<line x1="82.40" y1="625.72" x2="83.40" y2="620.07" stroke="#f06a12" stroke-width="1.2" stroke-linecap="round"/>
<line x1="82.40" y1="625.72" x2="87.42" y2="620.15" stroke="#d41c10" stroke-width="3.1" stroke-linecap="round"/>
<line x1="82.40" y1="625.72" x2="85.66" y2="622.10" stroke="#f06a12" stroke-width="1.2" stroke-linecap="round"/>
<ellipse cx="82.40" cy="625.72" rx="4.65" ry="4.21" fill="#d41c10"/>
<ellipse cx="82.40" cy="625.42" rx="3.75" ry="3.36" fill="#f06a12"/>
<ellipse cx="82.40" cy="625.22" rx="2.40" ry="2.19" fill="#ffd21c"/>
</g>
<path d="M107.47,628.99 L103.01,651.25 L108.99,652.75 L115.53,631.01Z" fill="#2466cc" fill-opacity="1.0"/>
<ellipse cx="106.00" cy="652.00" rx="3.08" ry="3.08" fill="#2466cc" fill-opacity="1.0"/>
<path d="M109.08,629.39 L104.36,651.59 L107.64,652.41 L113.92,630.61Z" fill="#3a9ae4" fill-opacity="0.85"/>
<ellipse cx="106.00" cy="652.00" rx="1.69" ry="1.69" fill="#3a9ae4" fill-opacity="0.85"/>
<line x1="111.50" y1="630.00" x2="106.00" y2="652.00" stroke="#3cc0e4" stroke-width="1.3"/>
<g transform="rotate(25 114.3 623.7)">
<line x1="114.30" y1="626.14" x2="109.06" y2="622.04" stroke="#d41c10" stroke-width="3.1" stroke-linecap="round"/>
<line x1="114.30" y1="626.14" x2="110.89" y2="623.47" stroke="#f06a12" stroke-width="1.2" stroke-linecap="round"/>
<line x1="114.30" y1="626.14" x2="111.44" y2="618.28" stroke="#d41c10" stroke-width="3.1" stroke-linecap="round"/>
<line x1="114.30" y1="626.14" x2="112.44" y2="621.03" stroke="#f06a12" stroke-width="1.2" stroke-linecap="round"/>
<line x1="114.30" y1="626.14" x2="115.78" y2="617.74" stroke="#d41c10" stroke-width="3.1" stroke-linecap="round"/>
<line x1="114.30" y1="626.14" x2="115.26" y2="620.68" stroke="#f06a12" stroke-width="1.2" stroke-linecap="round"/>
<line x1="114.30" y1="626.14" x2="119.15" y2="620.75" stroke="#d41c10" stroke-width="3.1" stroke-linecap="round"/>
<line x1="114.30" y1="626.14" x2="117.45" y2="622.64" stroke="#f06a12" stroke-width="1.2" stroke-linecap="round"/>
<ellipse cx="114.30" cy="626.14" rx="4.46" ry="4.06" fill="#d41c10"/>
<ellipse cx="114.30" cy="625.84" rx="3.60" ry="3.25" fill="#f06a12"/>
<ellipse cx="114.30" cy="625.64" rx="2.30" ry="2.11" fill="#ffd21c"/>
</g>
<path d="M124.8,615.0 Q125.2,633.5 125.6,652.0" fill="none" stroke="#2466cc" stroke-width="6"/>
<path d="M124.8,615.0 Q125.2,633.5 125.6,652.0" fill="none" stroke="#2a78dc" stroke-width="2.70"/>
<path d="M127.0,615.0 Q127.4,633.5 127.8,652.0" fill="none" stroke="#3cc0e4" stroke-width="1.1"/>
<path d="M133.16,620.20 L142.62,653.10 L150.58,650.90 L141.84,617.80Z" fill="#1a48b4" fill-opacity="1.0"/>
<ellipse cx="146.60" cy="652.00" rx="4.12" ry="4.12" fill="#1a48b4" fill-opacity="1.0"/>
<path d="M134.90,619.72 L144.41,652.60 L148.79,651.40 L140.10,618.28Z" fill="#3a9ae4" fill-opacity="0.85"/>
<ellipse cx="146.60" cy="652.00" rx="2.27" ry="2.27" fill="#3a9ae4" fill-opacity="0.85"/>
<path d="M157.53,629.77 L152.06,651.09 L157.94,652.91 L165.47,632.23Z" fill="#2466cc" fill-opacity="1.0"/>
<ellipse cx="155.00" cy="652.00" rx="3.08" ry="3.08" fill="#2466cc" fill-opacity="1.0"/>
<path d="M159.12,630.26 L153.38,651.50 L156.62,652.50 L163.88,631.74Z" fill="#3a9ae4" fill-opacity="0.85"/>
<ellipse cx="155.00" cy="652.00" rx="1.69" ry="1.69" fill="#3a9ae4" fill-opacity="0.85"/>
<line x1="161.50" y1="631.00" x2="155.00" y2="652.00" stroke="#3cc0e4" stroke-width="1.3"/>
<g transform="rotate(20 163.4 624.2)">
<line x1="163.40" y1="626.64" x2="158.16" y2="622.54" stroke="#d41c10" stroke-width="3.1" stroke-linecap="round"/>
<line x1="163.40" y1="626.64" x2="159.99" y2="623.97" stroke="#f06a12" stroke-width="1.2" stroke-linecap="round"/>
<line x1="163.40" y1="626.64" x2="160.54" y2="618.78" stroke="#d41c10" stroke-width="3.1" stroke-linecap="round"/>
<line x1="163.40" y1="626.64" x2="161.54" y2="621.53" stroke="#f06a12" stroke-width="1.2" stroke-linecap="round"/>
<line x1="163.40" y1="626.64" x2="164.88" y2="618.24" stroke="#d41c10" stroke-width="3.1" stroke-linecap="round"/>
<line x1="163.40" y1="626.64" x2="164.36" y2="621.18" stroke="#f06a12" stroke-width="1.2" stroke-linecap="round"/>
<line x1="163.40" y1="626.64" x2="168.25" y2="621.25" stroke="#d41c10" stroke-width="3.1" stroke-linecap="round"/>
<line x1="163.40" y1="626.64" x2="166.55" y2="623.14" stroke="#f06a12" stroke-width="1.2" stroke-linecap="round"/>
<ellipse cx="163.40" cy="626.64" rx="4.65" ry="4.06" fill="#d41c10"/>
<ellipse cx="163.40" cy="626.34" rx="3.75" ry="3.25" fill="#f06a12"/>
<ellipse cx="163.40" cy="626.14" rx="2.40" ry="2.11" fill="#ffd21c"/>
</g>
<path d="M179.0,615.0 Q173.8,632.0 172.5,649.0" fill="none" stroke="#2466cc" stroke-width="7"/>
<path d="M179.0,615.0 Q173.8,632.0 172.5,649.0" fill="none" stroke="#2a78dc" stroke-width="3.15"/>
<path d="M181.7,615.0 Q176.4,632.0 175.2,649.0" fill="none" stroke="#3cc0e4" stroke-width="1.1"/>
<path d="M187.78,619.54 L192.11,652.52 L200.29,651.48 L196.22,618.46Z" fill="#2466cc" fill-opacity="1.0"/>
<ellipse cx="196.20" cy="652.00" rx="4.12" ry="4.12" fill="#2466cc" fill-opacity="1.0"/>
<path d="M189.47,619.32 L193.95,652.29 L198.45,651.71 L194.53,618.68Z" fill="#3a9ae4" fill-opacity="0.85"/>
<ellipse cx="196.20" cy="652.00" rx="2.27" ry="2.27" fill="#3a9ae4" fill-opacity="0.85"/>
<line x1="192.00" y1="619.00" x2="196.20" y2="652.00" stroke="#3cc0e4" stroke-width="1.2"/>
<path d="M213.02,630.81 L208.05,651.11 L213.95,652.89 L220.98,633.19Z" fill="#2466cc" fill-opacity="1.0"/>
<ellipse cx="211.00" cy="652.00" rx="3.08" ry="3.08" fill="#2466cc" fill-opacity="1.0"/>
<path d="M214.61,631.28 L209.38,651.51 L212.62,652.49 L219.39,632.72Z" fill="#3a9ae4" fill-opacity="0.85"/>
<ellipse cx="211.00" cy="652.00" rx="1.69" ry="1.69" fill="#3a9ae4" fill-opacity="0.85"/>
<line x1="217.00" y1="632.00" x2="211.00" y2="652.00" stroke="#3cc0e4" stroke-width="1.3"/>
<g transform="rotate(15 218.4 624.8)">
<line x1="218.40" y1="627.32" x2="212.97" y2="623.08" stroke="#d41c10" stroke-width="3.1" stroke-linecap="round"/>
<line x1="218.40" y1="627.32" x2="214.87" y2="624.57" stroke="#f06a12" stroke-width="1.2" stroke-linecap="round"/>
<line x1="218.40" y1="627.32" x2="215.44" y2="619.19" stroke="#d41c10" stroke-width="3.1" stroke-linecap="round"/>
<line x1="218.40" y1="627.32" x2="216.48" y2="622.04" stroke="#f06a12" stroke-width="1.2" stroke-linecap="round"/>
<line x1="218.40" y1="627.32" x2="219.93" y2="618.63" stroke="#d41c10" stroke-width="3.1" stroke-linecap="round"/>
<line x1="218.40" y1="627.32" x2="219.40" y2="621.67" stroke="#f06a12" stroke-width="1.2" stroke-linecap="round"/>
<line x1="218.40" y1="627.32" x2="223.42" y2="621.75" stroke="#d41c10" stroke-width="3.1" stroke-linecap="round"/>
<line x1="218.40" y1="627.32" x2="221.66" y2="623.70" stroke="#f06a12" stroke-width="1.2" stroke-linecap="round"/>
<ellipse cx="218.40" cy="627.32" rx="4.65" ry="4.21" fill="#d41c10"/>
<ellipse cx="218.40" cy="627.02" rx="3.75" ry="3.36" fill="#f06a12"/>
<ellipse cx="218.40" cy="626.82" rx="2.40" ry="2.19" fill="#ffd21c"/>
</g>
<path d="M230.8,615.0 Q230.5,630.5 230.2,646.0" fill="none" stroke="#2466cc" stroke-width="6.5"/>
<path d="M230.8,615.0 Q230.5,630.5 230.2,646.0" fill="none" stroke="#2a78dc" stroke-width="2.93"/>
<path d="M233.2,615.0 Q232.9,630.5 232.6,646.0" fill="none" stroke="#3cc0e4" stroke-width="1.1"/>
<path d="M240.20,632.70 L250.59,653.26 L256.21,650.74 L247.80,629.30Z" fill="#2466cc" fill-opacity="1.0"/>
<ellipse cx="253.40" cy="652.00" rx="3.08" ry="3.08" fill="#2466cc" fill-opacity="1.0"/>
<path d="M241.72,632.02 L251.85,652.69 L254.95,651.31 L246.28,629.98Z" fill="#3a9ae4" fill-opacity="0.85"/>
<ellipse cx="253.40" cy="652.00" rx="1.69" ry="1.69" fill="#3a9ae4" fill-opacity="0.85"/>
<line x1="244.00" y1="631.00" x2="253.40" y2="652.00" stroke="#3cc0e4" stroke-width="1.3"/>
<g transform="rotate(-15 242.6 625.8)">
<line x1="242.60" y1="628.32" x2="237.17" y2="624.08" stroke="#d8a028" stroke-width="3.1" stroke-linecap="round"/>
<line x1="242.60" y1="628.32" x2="239.07" y2="625.57" stroke="#e8c040" stroke-width="1.2" stroke-linecap="round"/>
<line x1="242.60" y1="628.32" x2="239.64" y2="620.19" stroke="#d8a028" stroke-width="3.1" stroke-linecap="round"/>
<line x1="242.60" y1="628.32" x2="240.68" y2="623.04" stroke="#e8c040" stroke-width="1.2" stroke-linecap="round"/>
<line x1="242.60" y1="628.32" x2="244.13" y2="619.63" stroke="#d8a028" stroke-width="3.1" stroke-linecap="round"/>
<line x1="242.60" y1="628.32" x2="243.60" y2="622.67" stroke="#e8c040" stroke-width="1.2" stroke-linecap="round"/>
<line x1="242.60" y1="628.32" x2="247.62" y2="622.75" stroke="#d8a028" stroke-width="3.1" stroke-linecap="round"/>
<line x1="242.60" y1="628.32" x2="245.86" y2="624.70" stroke="#e8c040" stroke-width="1.2" stroke-linecap="round"/>
<ellipse cx="242.60" cy="628.32" rx="4.65" ry="4.21" fill="#d8a028"/>
<ellipse cx="242.60" cy="628.02" rx="3.75" ry="3.36" fill="#e8c040"/>
<ellipse cx="242.60" cy="627.82" rx="2.40" ry="2.19" fill="#f4e060"/>
</g>
</g>
<use href="#kg" transform="translate(219.60,0)"/>
<use href="#kg" filter="url(#speck)" opacity="0.55"/>
<use href="#kg" filter="url(#speck)" opacity="0.55" transform="translate(219.60,0)"/>
</g>
<line x1="42.50" y1="577.00" x2="42.50" y2="653.00" stroke="#2a2a2a" stroke-width="1.0"/>
<line x1="97.40" y1="577.00" x2="97.40" y2="653.00" stroke="#2a2a2a" stroke-width="1.0"/>
<line x1="152.30" y1="577.00" x2="152.30" y2="653.00" stroke="#2a2a2a" stroke-width="1.0"/>
<line x1="207.20" y1="577.00" x2="207.20" y2="653.00" stroke="#2a2a2a" stroke-width="1.0"/>
<line x1="262.10" y1="577.00" x2="262.10" y2="653.00" stroke="#2a2a2a" stroke-width="1.0"/>
<line x1="317.00" y1="577.00" x2="317.00" y2="653.00" stroke="#2a2a2a" stroke-width="1.0"/>
<line x1="371.90" y1="577.00" x2="371.90" y2="653.00" stroke="#2a2a2a" stroke-width="1.0"/>
<line x1="426.80" y1="577.00" x2="426.80" y2="653.00" stroke="#2a2a2a" stroke-width="1.0"/>
<line x1="481.70" y1="577.00" x2="481.70" y2="653.00" stroke="#2a2a2a" stroke-width="1.0"/>
<line x1="42.50" y1="615.00" x2="481.70" y2="615.00" stroke="#2a2a2a" stroke-width="1.0"/>
<line x1="42.50" y1="653.00" x2="481.70" y2="653.00" stroke="#5a5a5a" stroke-width="0.8"/>
<text x="69.95" y="572.50" font-size="8.8" text-anchor="middle" fill="#222">preop</text>
<text x="124.85" y="572.50" font-size="8.8" text-anchor="middle" fill="#222">postop</text>
<text x="179.75" y="572.50" font-size="8.8" text-anchor="middle" fill="#222">d2</text>
<text x="234.65" y="572.50" font-size="8.8" text-anchor="middle" fill="#222">d4</text>
<text x="289.55" y="572.50" font-size="8.8" text-anchor="middle" fill="#222">preop</text>
<text x="344.45" y="572.50" font-size="8.8" text-anchor="middle" fill="#222">postop</text>
<text x="399.35" y="572.50" font-size="8.8" text-anchor="middle" fill="#222">d2</text>
<text x="454.25" y="572.50" font-size="8.8" text-anchor="middle" fill="#222">d4</text>
<line x1="42.50" y1="566.00" x2="42.50" y2="577.00" stroke="#222" stroke-width="1.0"/>
<line x1="97.40" y1="566.00" x2="97.40" y2="577.00" stroke="#222" stroke-width="1.0"/>
<line x1="152.30" y1="566.00" x2="152.30" y2="577.00" stroke="#222" stroke-width="1.0"/>
<line x1="207.20" y1="566.00" x2="207.20" y2="577.00" stroke="#222" stroke-width="1.0"/>
<line x1="262.10" y1="566.00" x2="262.10" y2="577.00" stroke="#222" stroke-width="1.0"/>
<line x1="317.00" y1="566.00" x2="317.00" y2="577.00" stroke="#222" stroke-width="1.0"/>
<line x1="371.90" y1="566.00" x2="371.90" y2="577.00" stroke="#222" stroke-width="1.0"/>
<line x1="426.80" y1="566.00" x2="426.80" y2="577.00" stroke="#222" stroke-width="1.0"/>
<line x1="481.70" y1="566.00" x2="481.70" y2="577.00" stroke="#222" stroke-width="1.0"/>
<line x1="9.50" y1="577.00" x2="481.70" y2="577.00" stroke="#555" stroke-width="1.4"/>
<line x1="9.50" y1="615.00" x2="42.50" y2="615.00" stroke="#555" stroke-width="1.4"/>
<text x="23.20" y="593.00" font-size="8.2" text-anchor="middle" fill="#222">C5aR1<tspan class="sp" font-size="5.2" dy="-3">−/−</tspan></text>
<text x="23.20" y="603.50" font-size="8.2" text-anchor="middle" fill="#222">CXCL4<tspan class="sp" font-size="5.2" dy="-3">−/−</tspan></text>
<text x="23.20" y="636.50" font-size="8.2" text-anchor="middle" fill="#222">C5aR1<tspan class="sp" font-size="5.2" dy="-3">−/−</tspan></text>
<rect x="0.5" y="0.5" width="519" height="664" fill="none" stroke="#5f5f5f" stroke-width="1"/>
</svg>
</body></html>
